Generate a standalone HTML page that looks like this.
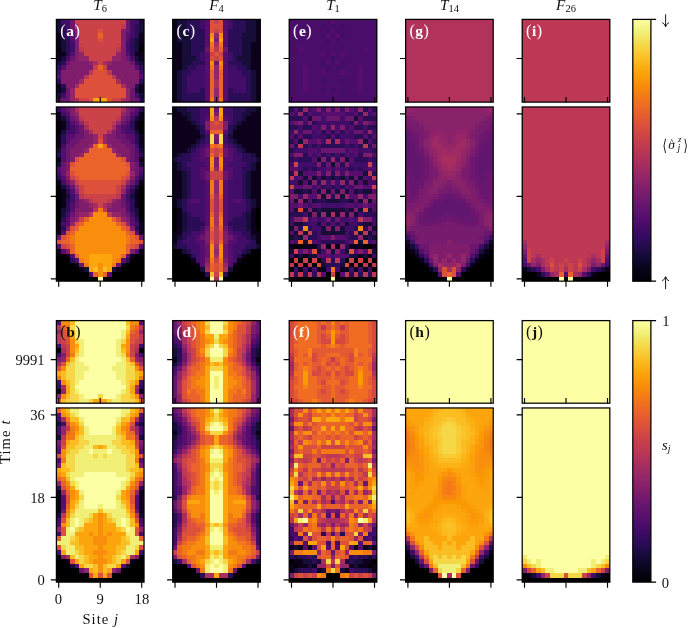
<!DOCTYPE html>
<html><head><meta charset="utf-8"><title>Figure</title>
<style>
html,body{margin:0;padding:0;background:#fff;}
svg{display:block;}
text{font-family:"Liberation Serif","DejaVu Serif",serif;fill:#111;}
.it{font-style:italic;}
.b{font-weight:bold;}
.w{fill:#fff;}
.ax{fill:none;stroke:#000;stroke-width:1.25;}
.tk{stroke:#000;stroke-width:1.15;fill:none;}
</style></head><body>
<svg width="688" height="628" viewBox="0 0 688 628">
<rect width="688" height="628" fill="#fff"/>
<defs><filter id="bl" x="-5%" y="-5%" width="110%" height="110%"><feGaussianBlur stdDeviation="0.55"/></filter></defs>

<g shape-rendering="crispEdges" filter="url(#bl)">
<g transform="translate(56.40,19.40) scale(4.6120,4.5972)"><path fill="#000004" d="M0 6h1v1h-1zM18 6h1v1h-1z"/><path fill="#07051b" d="M0 3h1v1h-1zM18 3h1v1h-1zM0 4h1v1h-1zM18 4h1v1h-1zM0 5h1v1h-1zM18 5h1v1h-1zM0 7h2v1h-2zM17 7h2v1h-2zM0 8h1v1h-1zM18 8h1v1h-1zM0 14h1v1h-1zM18 14h1v1h-1zM0 15h1v1h-1zM18 15h1v1h-1z"/><path fill="#160b39" d="M0 0h1v1h-1zM18 0h1v1h-1zM0 1h1v1h-1zM18 1h1v1h-1zM0 2h1v1h-1zM18 2h1v1h-1zM1 4h1v1h-1zM17 4h1v1h-1zM1 5h1v1h-1zM17 5h1v1h-1zM1 6h1v1h-1zM17 6h1v1h-1zM1 8h1v1h-1zM17 8h1v1h-1zM0 9h1v1h-1zM18 9h1v1h-1zM1 15h1v1h-1zM17 15h1v1h-1zM0 16h1v1h-1zM18 16h1v1h-1z"/><path fill="#2b0b57" d="M1 1h1v1h-1zM17 1h1v1h-1zM1 2h1v1h-1zM17 2h1v1h-1zM1 3h1v1h-1zM17 3h1v1h-1zM2 4h1v1h-1zM16 4h1v1h-1zM2 5h1v1h-1zM16 5h1v1h-1zM2 6h1v1h-1zM16 6h1v1h-1zM2 7h1v1h-1zM16 7h1v1h-1zM1 9h1v1h-1zM17 9h1v1h-1zM0 10h1v1h-1zM18 10h1v1h-1zM0 13h1v1h-1zM18 13h1v1h-1zM1 14h1v1h-1zM17 14h1v1h-1z"/><path fill="#420a68" d="M1 0h2v1h-2zM16 0h2v1h-2zM2 1h1v1h-1zM16 1h1v1h-1zM2 2h1v1h-1zM16 2h1v1h-1zM2 3h1v1h-1zM16 3h1v1h-1zM3 5h1v1h-1zM15 5h1v1h-1zM3 6h1v1h-1zM15 6h1v1h-1zM2 8h1v1h-1zM16 8h1v1h-1zM0 11h1v1h-1zM18 11h1v1h-1zM1 16h1v1h-1zM17 16h1v1h-1zM0 17h1v1h-1zM18 17h1v1h-1z"/><path fill="#57106e" d="M3 3h1v1h-1zM15 3h1v1h-1zM3 4h1v1h-1zM15 4h1v1h-1zM3 7h1v1h-1zM15 7h1v1h-1zM1 10h1v1h-1zM17 10h1v1h-1zM0 12h1v1h-1zM18 12h1v1h-1z"/><path fill="#6a176e" d="M3 0h1v1h-1zM15 0h1v1h-1zM3 1h1v1h-1zM15 1h1v1h-1zM3 2h1v1h-1zM15 2h1v1h-1zM3 8h1v1h-1zM15 8h1v1h-1zM2 9h1v1h-1zM16 9h1v1h-1zM2 15h1v1h-1zM16 15h1v1h-1zM2 16h1v1h-1zM16 16h1v1h-1zM1 17h2v1h-2zM16 17h2v1h-2z"/><path fill="#7f1e6c" d="M4 2h1v1h-1zM14 2h1v1h-1zM4 3h1v1h-1zM14 3h1v1h-1zM4 4h1v1h-1zM14 4h1v1h-1zM4 5h1v1h-1zM14 5h1v1h-1zM4 6h1v1h-1zM14 6h1v1h-1zM4 7h1v1h-1zM14 7h1v1h-1zM4 8h1v1h-1zM14 8h1v1h-1zM3 9h4v1h-4zM12 9h4v1h-4zM2 10h6v1h-6zM11 10h6v1h-6zM1 11h6v1h-6zM12 11h6v1h-6zM1 12h5v1h-5zM13 12h5v1h-5zM1 13h4v1h-4zM14 13h4v1h-4zM2 14h2v1h-2zM15 14h2v1h-2z"/><path fill="#932667" d="M5 7h1v1h-1zM13 7h1v1h-1zM5 8h2v1h-2zM12 8h2v1h-2zM7 9h1v1h-1zM11 9h1v1h-1zM3 15h1v1h-1zM15 15h1v1h-1zM3 16h1v1h-1zM15 16h1v1h-1zM3 17h1v1h-1zM15 17h1v1h-1z"/><path fill="#a82e5f" d="M8 9h1v1h-1zM10 9h1v1h-1zM5 13h1v1h-1zM13 13h1v1h-1zM4 14h1v1h-1zM14 14h1v1h-1zM4 17h1v1h-1zM14 17h1v1h-1z"/><path fill="#bc3754" d="M4 1h1v1h-1zM14 1h1v1h-1zM5 6h1v1h-1zM13 6h1v1h-1zM7 11h1v1h-1zM11 11h1v1h-1zM6 12h1v1h-1zM12 12h1v1h-1z"/><path fill="#cc4248" d="M4 0h11v1h-11zM5 1h9v1h-9zM5 2h4v1h-4zM10 2h4v1h-4zM5 3h4v1h-4zM10 3h4v1h-4zM5 4h4v1h-4zM10 4h4v1h-4zM5 5h9v1h-9zM6 6h7v1h-7zM6 7h7v1h-7zM7 8h5v1h-5zM9 9h1v1h-1zM8 10h1v1h-1zM10 10h1v1h-1zM5 17h2v1h-2zM12 17h2v1h-2z"/><path fill="#dd513a" d="M9 2h1v1h-1zM9 4h1v1h-1zM8 11h3v1h-3zM7 12h5v1h-5zM6 13h7v1h-7zM5 14h9v1h-9zM4 15h11v1h-11zM4 16h11v1h-11zM7 17h1v1h-1zM11 17h1v1h-1z"/><path fill="#ea632a" d="M9 3h1v1h-1zM9 10h1v1h-1z"/><path fill="#fca50a" d="M8 17h3v1h-3z"/></g>
<g transform="translate(56.40,106.95) scale(4.6120,4.5842)"><path fill="#000004" d="M0 3h1v1h-1zM18 3h1v1h-1zM0 4h1v1h-1zM18 4h1v1h-1zM0 5h1v1h-1zM18 5h1v1h-1zM0 17h1v1h-1zM18 17h1v1h-1zM0 18h1v1h-1zM18 18h1v1h-1zM0 19h1v1h-1zM18 19h1v1h-1zM0 20h1v1h-1zM18 20h1v1h-1zM0 21h1v1h-1zM18 21h1v1h-1zM0 22h1v1h-1zM18 22h1v1h-1zM0 23h1v1h-1zM18 23h1v1h-1zM0 24h1v1h-1zM18 24h1v1h-1zM0 32h2v1h-2zM17 32h2v1h-2zM0 33h3v1h-3zM16 33h3v1h-3zM0 34h4v1h-4zM15 34h4v1h-4zM0 35h5v1h-5zM14 35h5v1h-5zM0 36h7v1h-7zM12 36h7v1h-7zM0 37h9v1h-9zM10 37h9v1h-9z"/><path fill="#07051b" d="M0 1h1v1h-1zM18 1h1v1h-1zM0 2h1v1h-1zM18 2h1v1h-1zM1 3h1v1h-1zM17 3h1v1h-1zM1 4h1v1h-1zM17 4h1v1h-1zM0 6h1v1h-1zM18 6h1v1h-1zM0 7h1v1h-1zM18 7h1v1h-1zM0 8h1v1h-1zM18 8h1v1h-1zM0 11h1v1h-1zM18 11h1v1h-1zM0 16h1v1h-1zM18 16h1v1h-1zM1 18h1v1h-1zM17 18h1v1h-1zM1 19h1v1h-1zM17 19h1v1h-1zM1 20h1v1h-1zM17 20h1v1h-1zM1 21h1v1h-1zM17 21h1v1h-1zM0 25h1v1h-1zM18 25h1v1h-1zM0 26h1v1h-1zM18 26h1v1h-1zM0 27h1v1h-1zM18 27h1v1h-1zM0 31h1v1h-1zM18 31h1v1h-1zM2 32h1v1h-1zM16 32h1v1h-1zM4 34h1v1h-1zM14 34h1v1h-1zM5 35h1v1h-1zM13 35h1v1h-1z"/><path fill="#160b39" d="M1 2h1v1h-1zM17 2h1v1h-1zM1 5h1v1h-1zM17 5h1v1h-1zM0 9h1v1h-1zM18 9h1v1h-1zM0 12h1v1h-1zM18 12h1v1h-1zM1 17h1v1h-1zM17 17h1v1h-1zM2 19h1v1h-1zM16 19h1v1h-1zM1 22h1v1h-1zM17 22h1v1h-1zM1 23h1v1h-1zM17 23h1v1h-1zM6 35h1v1h-1zM12 35h1v1h-1z"/><path fill="#2b0b57" d="M0 0h1v1h-1zM18 0h1v1h-1zM2 3h1v1h-1zM16 3h1v1h-1zM2 4h1v1h-1zM16 4h1v1h-1zM1 6h1v1h-1zM17 6h1v1h-1zM1 7h1v1h-1zM17 7h1v1h-1zM0 10h1v1h-1zM18 10h1v1h-1zM0 15h1v1h-1zM18 15h1v1h-1zM2 18h1v1h-1zM16 18h1v1h-1zM2 20h1v1h-1zM16 20h1v1h-1zM2 21h1v1h-1zM16 21h1v1h-1zM2 22h1v1h-1zM16 22h1v1h-1zM1 24h1v1h-1zM17 24h1v1h-1zM1 26h1v1h-1zM17 26h1v1h-1zM3 33h1v1h-1zM15 33h1v1h-1z"/><path fill="#420a68" d="M1 1h1v1h-1zM17 1h1v1h-1zM2 2h1v1h-1zM16 2h1v1h-1zM3 4h1v1h-1zM15 4h1v1h-1zM2 5h2v1h-2zM15 5h2v1h-2zM1 8h1v1h-1zM17 8h1v1h-1zM0 14h1v1h-1zM18 14h1v1h-1zM1 16h1v1h-1zM17 16h1v1h-1zM2 17h1v1h-1zM16 17h1v1h-1zM3 19h1v1h-1zM15 19h1v1h-1zM3 20h1v1h-1zM15 20h1v1h-1zM2 23h1v1h-1zM16 23h1v1h-1zM1 25h1v1h-1zM17 25h1v1h-1z"/><path fill="#57106e" d="M1 0h1v1h-1zM17 0h1v1h-1zM2 1h1v1h-1zM16 1h1v1h-1zM3 3h1v1h-1zM15 3h1v1h-1zM4 4h1v1h-1zM14 4h1v1h-1zM4 5h1v1h-1zM14 5h1v1h-1zM2 6h2v1h-2zM15 6h2v1h-2zM2 7h1v1h-1zM16 7h1v1h-1zM1 9h1v1h-1zM17 9h1v1h-1zM1 10h1v1h-1zM17 10h1v1h-1zM1 11h1v1h-1zM17 11h1v1h-1zM0 13h1v1h-1zM18 13h1v1h-1zM1 15h1v1h-1zM17 15h1v1h-1zM3 18h1v1h-1zM15 18h1v1h-1zM3 21h1v1h-1zM15 21h1v1h-1zM3 22h1v1h-1zM15 22h1v1h-1zM2 24h1v1h-1zM16 24h1v1h-1zM2 25h1v1h-1zM16 25h1v1h-1zM1 27h1v1h-1zM17 27h1v1h-1zM0 30h1v1h-1zM18 30h1v1h-1zM1 31h1v1h-1zM17 31h1v1h-1zM3 32h1v1h-1zM15 32h1v1h-1zM4 33h1v1h-1zM14 33h1v1h-1zM7 36h1v1h-1zM11 36h1v1h-1z"/><path fill="#6a176e" d="M2 0h1v1h-1zM16 0h1v1h-1zM3 2h1v1h-1zM15 2h1v1h-1zM4 3h1v1h-1zM14 3h1v1h-1zM5 4h1v1h-1zM13 4h1v1h-1zM5 5h1v1h-1zM13 5h1v1h-1zM4 6h2v1h-2zM13 6h2v1h-2zM3 7h2v1h-2zM14 7h2v1h-2zM2 8h2v1h-2zM15 8h2v1h-2zM2 9h1v1h-1zM16 9h1v1h-1zM2 10h1v1h-1zM16 10h1v1h-1zM2 11h1v1h-1zM16 11h1v1h-1zM1 12h1v1h-1zM17 12h1v1h-1zM1 13h1v1h-1zM17 13h1v1h-1zM1 14h1v1h-1zM17 14h1v1h-1zM2 16h1v1h-1zM16 16h1v1h-1zM3 17h1v1h-1zM15 17h1v1h-1zM4 19h1v1h-1zM14 19h1v1h-1zM4 20h1v1h-1zM14 20h1v1h-1zM4 21h1v1h-1zM14 21h1v1h-1zM3 23h1v1h-1zM15 23h1v1h-1zM0 28h1v1h-1zM18 28h1v1h-1zM5 34h1v1h-1zM13 34h1v1h-1z"/><path fill="#7f1e6c" d="M3 0h1v1h-1zM15 0h1v1h-1zM3 1h1v1h-1zM15 1h1v1h-1zM4 2h1v1h-1zM14 2h1v1h-1zM6 5h1v1h-1zM12 5h1v1h-1zM6 6h2v1h-2zM11 6h2v1h-2zM5 7h3v1h-3zM11 7h3v1h-3zM4 8h3v1h-3zM12 8h3v1h-3zM3 9h3v1h-3zM13 9h3v1h-3zM3 10h2v1h-2zM14 10h2v1h-2zM3 11h1v1h-1zM15 11h1v1h-1zM2 12h1v1h-1zM16 12h1v1h-1zM2 13h1v1h-1zM16 13h1v1h-1zM2 15h1v1h-1zM16 15h1v1h-1zM5 20h1v1h-1zM13 20h1v1h-1zM5 21h2v1h-2zM12 21h2v1h-2zM4 22h4v1h-4zM11 22h4v1h-4zM4 23h1v1h-1zM14 23h1v1h-1zM3 24h1v1h-1zM15 24h1v1h-1zM2 26h1v1h-1zM16 26h1v1h-1zM2 31h1v1h-1zM16 31h1v1h-1z"/><path fill="#932667" d="M4 1h1v1h-1zM14 1h1v1h-1zM5 3h1v1h-1zM13 3h1v1h-1zM8 6h1v1h-1zM10 6h1v1h-1zM8 7h1v1h-1zM10 7h1v1h-1zM7 8h1v1h-1zM11 8h1v1h-1zM6 9h1v1h-1zM12 9h1v1h-1zM5 10h1v1h-1zM13 10h1v1h-1zM2 14h1v1h-1zM16 14h1v1h-1zM3 16h1v1h-1zM15 16h1v1h-1zM4 18h1v1h-1zM14 18h1v1h-1zM6 20h1v1h-1zM12 20h1v1h-1zM7 21h1v1h-1zM11 21h1v1h-1zM5 23h2v1h-2zM12 23h2v1h-2zM4 24h1v1h-1zM14 24h1v1h-1zM3 25h1v1h-1zM15 25h1v1h-1z"/><path fill="#a82e5f" d="M4 0h1v1h-1zM14 0h1v1h-1zM6 4h1v1h-1zM12 4h1v1h-1zM7 5h1v1h-1zM11 5h1v1h-1zM4 17h1v1h-1zM14 17h1v1h-1zM8 21h1v1h-1zM10 21h1v1h-1z"/><path fill="#bc3754" d="M5 2h1v1h-1zM13 2h1v1h-1zM6 3h1v1h-1zM12 3h1v1h-1zM5 19h1v1h-1zM13 19h1v1h-1zM7 20h1v1h-1zM11 20h1v1h-1zM8 22h1v1h-1zM10 22h1v1h-1zM7 23h1v1h-1zM11 23h1v1h-1z"/><path fill="#cc4248" d="M5 0h9v1h-9zM5 1h9v1h-9zM6 2h7v1h-7zM7 3h5v1h-5zM7 4h5v1h-5zM8 5h3v1h-3zM9 6h1v1h-1zM3 15h1v1h-1zM15 15h1v1h-1zM4 16h1v1h-1zM14 16h1v1h-1zM5 17h1v1h-1zM13 17h1v1h-1zM5 18h1v1h-1zM13 18h1v1h-1zM6 19h7v1h-7zM8 20h3v1h-3zM9 21h1v1h-1zM5 24h1v1h-1zM13 24h1v1h-1zM1 30h1v1h-1zM17 30h1v1h-1z"/><path fill="#dd513a" d="M9 7h1v1h-1zM4 11h1v1h-1zM14 11h1v1h-1zM3 12h1v1h-1zM15 12h1v1h-1zM3 14h1v1h-1zM15 14h1v1h-1zM4 15h1v1h-1zM14 15h1v1h-1zM5 16h9v1h-9zM6 17h7v1h-7zM6 18h7v1h-7zM4 25h1v1h-1zM14 25h1v1h-1zM3 26h1v1h-1zM15 26h1v1h-1zM2 27h1v1h-1zM16 27h1v1h-1zM1 28h1v1h-1zM17 28h1v1h-1zM0 29h1v1h-1zM18 29h1v1h-1zM2 30h1v1h-1zM16 30h1v1h-1z"/><path fill="#ea632a" d="M8 8h1v1h-1zM10 8h1v1h-1zM7 9h5v1h-5zM6 10h7v1h-7zM5 11h9v1h-9zM4 12h11v1h-11zM3 13h13v1h-13zM4 14h11v1h-11zM5 15h9v1h-9zM6 24h1v1h-1zM12 24h1v1h-1zM5 25h1v1h-1zM13 25h1v1h-1zM4 26h1v1h-1zM14 26h1v1h-1zM3 27h1v1h-1zM15 27h1v1h-1zM2 28h1v1h-1zM16 28h1v1h-1zM1 29h2v1h-2zM16 29h2v1h-2zM3 30h1v1h-1zM15 30h1v1h-1zM3 31h1v1h-1zM15 31h1v1h-1zM4 32h1v1h-1zM14 32h1v1h-1zM8 36h1v1h-1zM10 36h1v1h-1z"/><path fill="#f37819" d="M9 22h1v1h-1zM3 28h1v1h-1zM15 28h1v1h-1zM3 29h1v1h-1zM15 29h1v1h-1zM5 33h1v1h-1zM13 33h1v1h-1zM6 34h1v1h-1zM12 34h1v1h-1z"/><path fill="#f98e09" d="M8 23h3v1h-3zM7 24h5v1h-5zM6 25h7v1h-7zM5 26h9v1h-9zM4 27h11v1h-11zM4 28h11v1h-11zM4 29h11v1h-11zM4 30h11v1h-11zM4 31h11v1h-11zM5 32h2v1h-2zM12 32h2v1h-2zM6 33h1v1h-1zM12 33h1v1h-1zM9 34h1v1h-1zM9 35h1v1h-1zM9 36h1v1h-1z"/><path fill="#fca50a" d="M9 8h1v1h-1zM7 32h5v1h-5zM7 33h5v1h-5zM7 34h2v1h-2zM10 34h2v1h-2zM7 35h1v1h-1zM11 35h1v1h-1z"/><path fill="#fbbe23" d="M8 35h1v1h-1zM10 35h1v1h-1z"/><path fill="#fcffa4" d="M9 37h1v1h-1z"/></g>
</g>
<rect class="ax" x="56.40" y="19.40" width="87.63" height="82.75"/>
<rect class="ax" x="56.40" y="106.95" width="87.63" height="174.20"/>
<path class="tk" d="M56.40 278.86h-5.6M56.40 196.34h-5.6M56.40 113.83h-5.6M56.40 58.48h-5.6M58.71 281.15v5.6M58.71 102.15v-5.2M100.21 281.15v5.6M100.21 102.15v-5.2M141.72 281.15v5.6M141.72 102.15v-5.2"/>
<text class="w" x="60.3" y="36.0" font-size="16">(<tspan class="b" dx="0.5" font-size="15.5">a</tspan><tspan dx="0.5">)</tspan></text>
<g shape-rendering="crispEdges" filter="url(#bl)">
<g transform="translate(172.70,19.40) scale(4.6120,4.5972)"><path fill="#07051b" d="M0 0h1v1h-1zM18 0h1v1h-1zM0 1h1v1h-1zM18 1h1v1h-1zM0 2h1v1h-1zM18 2h1v1h-1zM0 3h1v1h-1zM18 3h1v1h-1zM0 4h1v1h-1zM18 4h1v1h-1zM0 5h2v1h-2zM17 5h2v1h-2zM0 6h2v1h-2zM17 6h2v1h-2zM0 7h2v1h-2zM17 7h2v1h-2zM0 8h2v1h-2zM17 8h2v1h-2zM0 9h2v1h-2zM17 9h2v1h-2zM0 10h2v1h-2zM17 10h2v1h-2zM0 11h1v1h-1zM18 11h1v1h-1zM0 12h1v1h-1zM18 12h1v1h-1zM0 13h1v1h-1zM18 13h1v1h-1zM0 14h1v1h-1zM18 14h1v1h-1zM0 15h1v1h-1zM18 15h1v1h-1zM0 16h1v1h-1zM18 16h1v1h-1zM0 17h1v1h-1zM18 17h1v1h-1z"/><path fill="#160b39" d="M1 0h2v1h-2zM16 0h2v1h-2zM1 1h2v1h-2zM16 1h2v1h-2zM1 2h2v1h-2zM16 2h2v1h-2zM1 3h3v1h-3zM15 3h3v1h-3zM1 4h3v1h-3zM15 4h3v1h-3zM2 5h2v1h-2zM15 5h2v1h-2zM2 6h2v1h-2zM15 6h2v1h-2zM2 7h2v1h-2zM15 7h2v1h-2zM2 8h3v1h-3zM14 8h3v1h-3zM2 9h2v1h-2zM15 9h2v1h-2zM2 10h1v1h-1zM16 10h1v1h-1zM1 11h1v1h-1zM17 11h1v1h-1zM1 12h1v1h-1zM17 12h1v1h-1zM1 13h1v1h-1zM17 13h1v1h-1zM1 14h1v1h-1zM17 14h1v1h-1zM1 15h1v1h-1zM17 15h1v1h-1zM1 16h1v1h-1zM17 16h1v1h-1zM1 17h1v1h-1zM17 17h1v1h-1z"/><path fill="#2b0b57" d="M3 0h3v1h-3zM13 0h3v1h-3zM3 1h3v1h-3zM13 1h3v1h-3zM3 2h4v1h-4zM12 2h4v1h-4zM4 3h3v1h-3zM12 3h3v1h-3zM4 4h3v1h-3zM12 4h3v1h-3zM4 5h3v1h-3zM12 5h3v1h-3zM4 6h3v1h-3zM12 6h3v1h-3zM4 7h2v1h-2zM13 7h2v1h-2zM5 8h1v1h-1zM13 8h1v1h-1zM4 9h3v1h-3zM12 9h3v1h-3zM3 10h2v1h-2zM14 10h2v1h-2zM2 11h2v1h-2zM15 11h2v1h-2zM2 12h1v1h-1zM16 12h1v1h-1zM2 13h1v1h-1zM16 13h1v1h-1zM2 14h1v1h-1zM16 14h1v1h-1zM2 15h1v1h-1zM6 15h1v1h-1zM12 15h1v1h-1zM16 15h1v1h-1zM2 16h5v1h-5zM12 16h5v1h-5zM2 17h5v1h-5zM12 17h5v1h-5z"/><path fill="#420a68" d="M6 0h1v1h-1zM12 0h1v1h-1zM6 1h1v1h-1zM12 1h1v1h-1zM6 7h1v1h-1zM12 7h1v1h-1zM6 8h1v1h-1zM12 8h1v1h-1zM5 10h2v1h-2zM12 10h2v1h-2zM4 11h3v1h-3zM12 11h3v1h-3zM3 12h4v1h-4zM12 12h4v1h-4zM3 13h4v1h-4zM12 13h4v1h-4zM3 14h4v1h-4zM12 14h4v1h-4zM3 15h3v1h-3zM13 15h3v1h-3z"/><path fill="#57106e" d="M7 0h1v1h-1zM11 0h1v1h-1zM7 1h1v1h-1zM11 1h1v1h-1zM7 2h1v1h-1zM11 2h1v1h-1zM7 3h1v1h-1zM11 3h1v1h-1zM7 4h1v1h-1zM11 4h1v1h-1zM7 5h1v1h-1zM11 5h1v1h-1zM7 7h1v1h-1zM11 7h1v1h-1zM7 8h1v1h-1zM11 8h1v1h-1zM7 9h1v1h-1zM11 9h1v1h-1zM7 10h1v1h-1zM11 10h1v1h-1zM7 11h1v1h-1zM11 11h1v1h-1zM7 12h1v1h-1zM11 12h1v1h-1zM7 13h1v1h-1zM11 13h1v1h-1zM7 14h1v1h-1zM11 14h1v1h-1zM7 15h1v1h-1zM11 15h1v1h-1zM7 16h1v1h-1zM11 16h1v1h-1zM7 17h1v1h-1zM11 17h1v1h-1z"/><path fill="#6a176e" d="M7 6h1v1h-1zM11 6h1v1h-1zM9 9h1v1h-1z"/><path fill="#7f1e6c" d="M9 4h1v1h-1z"/><path fill="#932667" d="M9 3h1v1h-1zM9 10h1v1h-1zM9 11h1v1h-1zM9 12h1v1h-1zM9 15h1v1h-1zM9 16h1v1h-1zM9 17h1v1h-1z"/><path fill="#a82e5f" d="M9 5h1v1h-1zM9 13h1v1h-1zM9 14h1v1h-1z"/><path fill="#bc3754" d="M9 6h1v1h-1z"/><path fill="#cc4248" d="M9 0h1v1h-1zM9 2h1v1h-1zM8 7h1v1h-1zM10 7h1v1h-1zM9 8h1v1h-1z"/><path fill="#dd513a" d="M8 0h1v1h-1zM10 0h1v1h-1zM8 1h3v1h-3zM8 2h1v1h-1zM10 2h1v1h-1zM9 7h1v1h-1zM8 8h1v1h-1zM10 8h1v1h-1z"/><path fill="#ea632a" d="M8 6h1v1h-1zM10 6h1v1h-1zM8 11h1v1h-1zM10 11h1v1h-1zM8 12h1v1h-1zM10 12h1v1h-1zM8 13h1v1h-1zM10 13h1v1h-1zM8 14h1v1h-1zM10 14h1v1h-1zM8 15h1v1h-1zM10 15h1v1h-1zM8 16h1v1h-1zM10 16h1v1h-1z"/><path fill="#f37819" d="M8 5h1v1h-1zM10 5h1v1h-1zM8 10h1v1h-1zM10 10h1v1h-1zM8 17h1v1h-1zM10 17h1v1h-1z"/><path fill="#f98e09" d="M8 3h1v1h-1zM10 3h1v1h-1zM8 9h1v1h-1zM10 9h1v1h-1z"/><path fill="#fca50a" d="M8 4h1v1h-1zM10 4h1v1h-1z"/></g>
<g transform="translate(172.70,106.95) scale(4.6120,4.5842)"><path fill="#000004" d="M0 22h1v1h-1zM18 22h1v1h-1zM0 23h1v1h-1zM18 23h1v1h-1zM0 24h1v1h-1zM18 24h1v1h-1zM0 25h1v1h-1zM18 25h1v1h-1zM0 26h1v1h-1zM18 26h1v1h-1zM0 31h2v1h-2zM17 31h2v1h-2zM0 32h3v1h-3zM16 32h3v1h-3zM0 33h4v1h-4zM15 33h4v1h-4zM0 34h5v1h-5zM14 34h5v1h-5zM0 35h6v1h-6zM13 35h6v1h-6zM0 36h7v1h-7zM12 36h7v1h-7zM0 37h8v1h-8zM11 37h8v1h-8z"/><path fill="#07051b" d="M0 0h1v1h-1zM18 0h1v1h-1zM0 1h2v1h-2zM17 1h2v1h-2zM0 2h3v1h-3zM16 2h3v1h-3zM0 3h4v1h-4zM15 3h4v1h-4zM0 4h5v1h-5zM14 4h5v1h-5zM0 5h6v1h-6zM13 5h6v1h-6zM0 6h6v1h-6zM13 6h6v1h-6zM0 7h5v1h-5zM14 7h5v1h-5zM0 8h4v1h-4zM15 8h4v1h-4zM0 9h3v1h-3zM16 9h3v1h-3zM0 10h1v1h-1zM18 10h1v1h-1zM0 12h1v1h-1zM18 12h1v1h-1zM0 13h1v1h-1zM18 13h1v1h-1zM0 14h2v1h-2zM17 14h2v1h-2zM0 15h2v1h-2zM17 15h2v1h-2zM0 16h2v1h-2zM17 16h2v1h-2zM0 17h2v1h-2zM17 17h2v1h-2zM0 18h2v1h-2zM17 18h2v1h-2zM0 19h2v1h-2zM17 19h2v1h-2zM0 20h1v1h-1zM18 20h1v1h-1zM0 21h1v1h-1zM18 21h1v1h-1zM1 22h1v1h-1zM17 22h1v1h-1zM1 23h1v1h-1zM17 23h1v1h-1zM1 24h1v1h-1zM17 24h1v1h-1zM1 25h1v1h-1zM17 25h1v1h-1zM1 26h1v1h-1zM17 26h1v1h-1zM0 27h2v1h-2zM17 27h2v1h-2zM0 28h1v1h-1zM18 28h1v1h-1zM0 29h1v1h-1zM18 29h1v1h-1zM3 32h1v1h-1zM15 32h1v1h-1zM4 33h1v1h-1zM14 33h1v1h-1zM5 34h1v1h-1zM13 34h1v1h-1z"/><path fill="#160b39" d="M1 0h2v1h-2zM16 0h2v1h-2zM2 1h2v1h-2zM15 1h2v1h-2zM3 2h1v1h-1zM15 2h1v1h-1zM4 3h1v1h-1zM14 3h1v1h-1zM5 4h1v1h-1zM13 4h1v1h-1zM6 6h1v1h-1zM12 6h1v1h-1zM5 7h1v1h-1zM13 7h1v1h-1zM4 8h1v1h-1zM14 8h1v1h-1zM3 9h1v1h-1zM15 9h1v1h-1zM1 10h1v1h-1zM17 10h1v1h-1zM0 11h1v1h-1zM18 11h1v1h-1zM1 12h1v1h-1zM17 12h1v1h-1zM1 13h1v1h-1zM17 13h1v1h-1zM2 14h1v1h-1zM16 14h1v1h-1zM2 15h1v1h-1zM16 15h1v1h-1zM2 16h1v1h-1zM16 16h1v1h-1zM2 17h1v1h-1zM16 17h1v1h-1zM2 18h1v1h-1zM16 18h1v1h-1zM2 19h1v1h-1zM16 19h1v1h-1zM1 20h1v1h-1zM17 20h1v1h-1zM1 21h1v1h-1zM17 21h1v1h-1zM2 23h1v1h-1zM16 23h1v1h-1zM2 24h1v1h-1zM16 24h1v1h-1zM2 25h1v1h-1zM16 25h1v1h-1zM2 26h1v1h-1zM16 26h1v1h-1zM1 28h1v1h-1zM17 28h1v1h-1zM0 30h1v1h-1zM18 30h1v1h-1zM2 31h1v1h-1zM16 31h1v1h-1zM6 35h1v1h-1zM12 35h1v1h-1z"/><path fill="#2b0b57" d="M3 0h3v1h-3zM13 0h3v1h-3zM4 1h2v1h-2zM13 1h2v1h-2zM4 2h2v1h-2zM13 2h2v1h-2zM5 3h1v1h-1zM13 3h1v1h-1zM6 4h1v1h-1zM12 4h1v1h-1zM6 5h1v1h-1zM12 5h1v1h-1zM6 7h1v1h-1zM12 7h1v1h-1zM5 8h1v1h-1zM13 8h1v1h-1zM4 9h1v1h-1zM14 9h1v1h-1zM2 10h2v1h-2zM15 10h2v1h-2zM1 11h3v1h-3zM15 11h3v1h-3zM2 12h1v1h-1zM16 12h1v1h-1zM2 13h2v1h-2zM15 13h2v1h-2zM3 14h1v1h-1zM15 14h1v1h-1zM3 15h1v1h-1zM15 15h1v1h-1zM3 16h1v1h-1zM15 16h1v1h-1zM3 17h1v1h-1zM15 17h1v1h-1zM3 18h1v1h-1zM15 18h1v1h-1zM3 19h1v1h-1zM15 19h1v1h-1zM2 20h1v1h-1zM16 20h1v1h-1zM2 21h1v1h-1zM16 21h1v1h-1zM2 22h1v1h-1zM16 22h1v1h-1zM3 23h1v1h-1zM15 23h1v1h-1zM3 24h3v1h-3zM13 24h3v1h-3zM3 25h4v1h-4zM12 25h4v1h-4zM3 26h3v1h-3zM13 26h3v1h-3zM2 27h2v1h-2zM15 27h2v1h-2zM2 28h1v1h-1zM16 28h1v1h-1zM1 29h1v1h-1zM17 29h1v1h-1zM1 30h2v1h-2zM16 30h2v1h-2zM3 31h1v1h-1zM15 31h1v1h-1zM4 32h1v1h-1zM14 32h1v1h-1zM7 36h1v1h-1zM11 36h1v1h-1z"/><path fill="#420a68" d="M6 0h2v1h-2zM11 0h2v1h-2zM6 1h2v1h-2zM11 1h2v1h-2zM6 2h1v1h-1zM12 2h1v1h-1zM6 3h1v1h-1zM12 3h1v1h-1zM7 6h1v1h-1zM11 6h1v1h-1zM7 7h1v1h-1zM11 7h1v1h-1zM6 8h1v1h-1zM12 8h1v1h-1zM5 9h1v1h-1zM13 9h1v1h-1zM4 10h2v1h-2zM13 10h2v1h-2zM4 11h2v1h-2zM13 11h2v1h-2zM3 12h4v1h-4zM12 12h4v1h-4zM4 13h2v1h-2zM13 13h2v1h-2zM4 14h2v1h-2zM13 14h2v1h-2zM4 15h2v1h-2zM13 15h2v1h-2zM4 16h3v1h-3zM12 16h3v1h-3zM4 17h3v1h-3zM12 17h3v1h-3zM4 18h3v1h-3zM12 18h3v1h-3zM4 19h3v1h-3zM12 19h3v1h-3zM3 20h1v1h-1zM6 20h1v1h-1zM12 20h1v1h-1zM15 20h1v1h-1zM3 21h4v1h-4zM12 21h4v1h-4zM3 22h4v1h-4zM12 22h4v1h-4zM4 23h3v1h-3zM12 23h3v1h-3zM6 24h1v1h-1zM12 24h1v1h-1zM6 26h1v1h-1zM12 26h1v1h-1zM4 27h2v1h-2zM13 27h2v1h-2zM3 28h2v1h-2zM14 28h2v1h-2zM2 29h3v1h-3zM14 29h3v1h-3zM3 30h3v1h-3zM13 30h3v1h-3zM4 31h2v1h-2zM13 31h2v1h-2zM5 32h1v1h-1zM13 32h1v1h-1zM5 33h1v1h-1zM13 33h1v1h-1z"/><path fill="#57106e" d="M7 2h1v1h-1zM11 2h1v1h-1zM7 5h1v1h-1zM11 5h1v1h-1zM7 8h1v1h-1zM11 8h1v1h-1zM6 9h1v1h-1zM12 9h1v1h-1zM6 10h1v1h-1zM12 10h1v1h-1zM6 11h2v1h-2zM11 11h2v1h-2zM7 12h1v1h-1zM11 12h1v1h-1zM6 13h2v1h-2zM11 13h2v1h-2zM6 14h1v1h-1zM12 14h1v1h-1zM6 15h1v1h-1zM12 15h1v1h-1zM7 16h1v1h-1zM11 16h1v1h-1zM7 17h1v1h-1zM11 17h1v1h-1zM7 18h1v1h-1zM11 18h1v1h-1zM7 19h1v1h-1zM11 19h1v1h-1zM4 20h2v1h-2zM7 20h1v1h-1zM11 20h1v1h-1zM13 20h2v1h-2zM7 21h1v1h-1zM11 21h1v1h-1zM7 22h1v1h-1zM11 22h1v1h-1zM7 23h1v1h-1zM11 23h1v1h-1zM7 24h1v1h-1zM11 24h1v1h-1zM7 25h1v1h-1zM11 25h1v1h-1zM6 27h1v1h-1zM12 27h1v1h-1zM5 28h1v1h-1zM13 28h1v1h-1zM5 29h2v1h-2zM12 29h2v1h-2zM6 30h1v1h-1zM12 30h1v1h-1zM6 31h1v1h-1zM12 31h1v1h-1zM6 32h1v1h-1zM12 32h1v1h-1zM6 33h1v1h-1zM12 33h1v1h-1zM6 34h1v1h-1zM12 34h1v1h-1z"/><path fill="#6a176e" d="M9 0h1v1h-1zM9 7h1v1h-1zM7 9h1v1h-1zM11 9h1v1h-1zM7 10h1v1h-1zM11 10h1v1h-1zM7 14h1v1h-1zM11 14h1v1h-1zM7 15h1v1h-1zM11 15h1v1h-1zM7 26h1v1h-1zM11 26h1v1h-1zM6 28h1v1h-1zM12 28h1v1h-1zM7 30h1v1h-1zM11 30h1v1h-1zM7 31h1v1h-1zM11 31h1v1h-1zM7 32h1v1h-1zM11 32h1v1h-1z"/><path fill="#7f1e6c" d="M9 1h1v1h-1zM7 3h1v1h-1zM11 3h1v1h-1zM7 4h1v1h-1zM11 4h1v1h-1zM9 6h1v1h-1zM9 11h1v1h-1zM9 12h1v1h-1zM7 27h1v1h-1zM11 27h1v1h-1zM7 28h1v1h-1zM11 28h1v1h-1zM7 29h1v1h-1zM11 29h1v1h-1zM7 33h1v1h-1zM11 33h1v1h-1z"/><path fill="#932667" d="M9 13h1v1h-1zM9 16h1v1h-1zM9 17h1v1h-1zM9 18h1v1h-1zM9 31h1v1h-1zM7 34h1v1h-1zM11 34h1v1h-1z"/><path fill="#a82e5f" d="M9 19h1v1h-1zM9 20h1v1h-1zM9 21h1v1h-1zM9 22h1v1h-1zM9 23h1v1h-1zM9 24h1v1h-1zM9 25h1v1h-1zM9 30h1v1h-1zM9 32h1v1h-1zM7 35h1v1h-1zM11 35h1v1h-1zM9 37h1v1h-1z"/><path fill="#bc3754" d="M9 2h1v1h-1zM9 26h1v1h-1zM9 27h1v1h-1zM9 28h1v1h-1zM9 29h1v1h-1z"/><path fill="#cc4248" d="M8 3h1v1h-1zM10 3h1v1h-1zM8 4h3v1h-3zM9 9h1v1h-1zM9 10h1v1h-1zM8 14h3v1h-3zM8 15h3v1h-3zM9 33h1v1h-1zM9 36h1v1h-1z"/><path fill="#dd513a" d="M9 3h1v1h-1zM8 9h1v1h-1zM10 9h1v1h-1zM8 20h1v1h-1zM10 20h1v1h-1zM8 21h1v1h-1zM10 21h1v1h-1zM8 22h1v1h-1zM10 22h1v1h-1zM8 27h1v1h-1zM10 27h1v1h-1zM8 28h1v1h-1zM10 28h1v1h-1zM9 34h1v1h-1zM9 35h1v1h-1z"/><path fill="#ea632a" d="M8 5h3v1h-3zM9 8h1v1h-1zM8 10h1v1h-1zM10 10h1v1h-1zM8 19h1v1h-1zM10 19h1v1h-1zM8 23h1v1h-1zM10 23h1v1h-1zM8 26h1v1h-1zM10 26h1v1h-1zM8 29h1v1h-1zM10 29h1v1h-1zM8 34h1v1h-1zM10 34h1v1h-1zM8 35h1v1h-1zM10 35h1v1h-1z"/><path fill="#f37819" d="M8 8h1v1h-1zM10 8h1v1h-1zM8 13h1v1h-1zM10 13h1v1h-1zM8 16h1v1h-1zM10 16h1v1h-1zM8 17h1v1h-1zM10 17h1v1h-1zM8 18h1v1h-1zM10 18h1v1h-1zM8 24h1v1h-1zM10 24h1v1h-1zM8 25h1v1h-1zM10 25h1v1h-1zM8 33h1v1h-1zM10 33h1v1h-1z"/><path fill="#f98e09" d="M8 2h1v1h-1zM10 2h1v1h-1zM8 11h1v1h-1zM10 11h1v1h-1zM8 12h1v1h-1zM10 12h1v1h-1zM8 30h1v1h-1zM10 30h1v1h-1zM8 31h1v1h-1zM10 31h1v1h-1zM8 32h1v1h-1zM10 32h1v1h-1z"/><path fill="#fca50a" d="M8 0h1v1h-1zM10 0h1v1h-1zM8 1h1v1h-1zM10 1h1v1h-1z"/><path fill="#fbbe23" d="M8 36h1v1h-1zM10 36h1v1h-1z"/><path fill="#f6d746" d="M8 6h1v1h-1zM10 6h1v1h-1zM8 7h1v1h-1zM10 7h1v1h-1z"/><path fill="#fcffa4" d="M8 37h1v1h-1zM10 37h1v1h-1z"/></g>
</g>
<rect class="ax" x="172.70" y="19.40" width="87.63" height="82.75"/>
<rect class="ax" x="172.70" y="106.95" width="87.63" height="174.20"/>
<path class="tk" d="M172.70 278.86h-5.6M172.70 196.34h-5.6M172.70 113.83h-5.6M172.70 58.48h-5.6M175.01 281.15v5.6M175.01 102.15v-5.2M216.51 281.15v5.6M216.51 102.15v-5.2M258.02 281.15v5.6M258.02 102.15v-5.2"/>
<text class="w" x="176.6" y="36.0" font-size="16">(<tspan class="b" dx="0.5" font-size="15.5">c</tspan><tspan dx="0.5">)</tspan></text>
<g shape-rendering="crispEdges" filter="url(#bl)">
<g transform="translate(289.20,19.40) scale(4.6120,4.5972)"><path fill="#420a68" d="M7 1h1v1h-1zM9 1h1v1h-1zM11 1h1v1h-1zM8 2h1v1h-1zM10 2h1v1h-1zM7 3h1v1h-1zM9 3h1v1h-1zM11 3h1v1h-1zM8 4h1v1h-1zM10 4h1v1h-1zM9 8h1v1h-1zM7 9h1v1h-1zM9 9h1v1h-1zM11 9h1v1h-1zM8 10h1v1h-1zM10 10h1v1h-1zM7 13h1v1h-1zM11 13h1v1h-1zM7 15h1v1h-1zM9 15h1v1h-1zM11 15h1v1h-1z"/><path fill="#4c0c6b" d="M0 0h9v1h-9zM10 0h9v1h-9zM0 1h7v1h-7zM8 1h1v1h-1zM10 1h1v1h-1zM12 1h7v1h-7zM0 2h8v1h-8zM11 2h8v1h-8zM0 3h7v1h-7zM12 3h7v1h-7zM0 4h8v1h-8zM11 4h8v1h-8zM0 5h19v1h-19zM0 6h2v1h-2zM3 6h13v1h-13zM17 6h2v1h-2zM0 7h7v1h-7zM8 7h1v1h-1zM10 7h1v1h-1zM12 7h7v1h-7zM0 8h9v1h-9zM10 8h9v1h-9zM0 9h7v1h-7zM12 9h7v1h-7zM0 10h3v1h-3zM4 10h4v1h-4zM9 10h1v1h-1zM11 10h4v1h-4zM16 10h3v1h-3zM0 11h3v1h-3zM4 11h3v1h-3zM8 11h3v1h-3zM12 11h3v1h-3zM16 11h3v1h-3zM0 12h3v1h-3zM4 12h11v1h-11zM16 12h3v1h-3zM0 13h3v1h-3zM4 13h3v1h-3zM8 13h3v1h-3zM12 13h3v1h-3zM16 13h3v1h-3zM0 14h3v1h-3zM4 14h11v1h-11zM16 14h3v1h-3zM0 15h3v1h-3zM4 15h3v1h-3zM8 15h1v1h-1zM10 15h1v1h-1zM12 15h3v1h-3zM16 15h3v1h-3zM0 16h19v1h-19zM0 17h19v1h-19z"/><path fill="#57106e" d="M9 0h1v1h-1zM9 2h1v1h-1zM8 3h1v1h-1zM10 3h1v1h-1zM9 4h1v1h-1zM2 6h1v1h-1zM16 6h1v1h-1zM7 7h1v1h-1zM9 7h1v1h-1zM11 7h1v1h-1zM8 9h1v1h-1zM10 9h1v1h-1zM3 10h1v1h-1zM15 10h1v1h-1zM3 11h1v1h-1zM7 11h1v1h-1zM11 11h1v1h-1zM15 11h1v1h-1zM3 12h1v1h-1zM15 12h1v1h-1zM3 13h1v1h-1zM15 13h1v1h-1zM3 14h1v1h-1zM15 14h1v1h-1zM3 15h1v1h-1zM15 15h1v1h-1z"/></g>
<g transform="translate(289.20,106.95) scale(4.6120,4.5842)"><path fill="#000004" d="M1 30h2v1h-2zM16 30h2v1h-2zM0 33h1v1h-1zM2 33h1v1h-1zM4 33h1v1h-1zM6 33h1v1h-1zM12 33h1v1h-1zM14 33h1v1h-1zM16 33h1v1h-1zM18 33h1v1h-1zM1 34h1v1h-1zM3 34h1v1h-1zM5 34h1v1h-1zM13 34h1v1h-1zM15 34h1v1h-1zM17 34h1v1h-1zM0 35h1v1h-1zM18 35h1v1h-1zM8 36h1v1h-1zM10 36h1v1h-1zM0 37h9v1h-9zM10 37h9v1h-9z"/><path fill="#07051b" d="M0 30h1v1h-1zM3 30h3v1h-3zM8 30h1v1h-1zM10 30h1v1h-1zM13 30h3v1h-3zM18 30h1v1h-1zM1 32h1v1h-1zM3 32h1v1h-1zM15 32h1v1h-1zM17 32h1v1h-1zM2 35h1v1h-1zM4 35h1v1h-1zM6 35h2v1h-2zM11 35h2v1h-2zM14 35h1v1h-1zM16 35h1v1h-1z"/><path fill="#120a32" d="M6 11h1v1h-1zM12 11h1v1h-1zM9 12h1v1h-1zM5 15h1v1h-1zM7 15h1v1h-1zM11 15h1v1h-1zM13 15h1v1h-1zM2 16h1v1h-1zM16 16h1v1h-1zM6 18h1v1h-1zM12 18h1v1h-1zM1 20h1v1h-1zM3 20h1v1h-1zM15 20h1v1h-1zM17 20h1v1h-1zM4 23h1v1h-1zM8 23h1v1h-1zM10 23h1v1h-1zM14 23h1v1h-1zM1 25h1v1h-1zM17 25h1v1h-1zM0 26h1v1h-1zM18 26h1v1h-1zM1 27h1v1h-1zM7 27h1v1h-1zM9 27h1v1h-1zM11 27h1v1h-1zM17 27h1v1h-1zM0 28h1v1h-1zM2 28h1v1h-1zM16 28h1v1h-1zM18 28h1v1h-1zM3 29h1v1h-1zM15 29h1v1h-1z"/><path fill="#160b39" d="M4 2h1v1h-1zM14 2h1v1h-1zM2 7h1v1h-1zM16 7h1v1h-1zM2 14h1v1h-1zM16 14h1v1h-1zM3 15h1v1h-1zM9 15h1v1h-1zM15 15h1v1h-1zM4 16h1v1h-1zM14 16h1v1h-1zM1 18h2v1h-2zM4 18h1v1h-1zM8 18h1v1h-1zM10 18h1v1h-1zM14 18h1v1h-1zM16 18h2v1h-2zM7 19h1v1h-1zM11 19h1v1h-1zM5 20h1v1h-1zM8 20h3v1h-3zM13 20h1v1h-1zM1 22h1v1h-1zM3 22h1v1h-1zM5 22h1v1h-1zM7 22h5v1h-5zM13 22h1v1h-1zM15 22h1v1h-1zM17 22h1v1h-1zM6 23h1v1h-1zM12 23h1v1h-1zM2 25h1v1h-1zM6 25h1v1h-1zM12 25h1v1h-1zM16 25h1v1h-1zM7 26h1v1h-1zM9 26h1v1h-1zM11 26h1v1h-1zM3 27h1v1h-1zM8 27h1v1h-1zM10 27h1v1h-1zM15 27h1v1h-1zM0 31h1v1h-1zM6 31h1v1h-1zM9 31h1v1h-1zM12 31h1v1h-1zM18 31h1v1h-1zM2 32h1v1h-1zM4 32h2v1h-2zM13 32h2v1h-2zM16 32h1v1h-1zM7 34h1v1h-1zM11 34h1v1h-1z"/><path fill="#2b0b57" d="M0 0h1v1h-1zM2 0h1v1h-1zM16 0h1v1h-1zM18 0h1v1h-1zM3 1h1v1h-1zM15 1h1v1h-1zM0 2h3v1h-3zM16 2h3v1h-3zM5 3h1v1h-1zM13 3h1v1h-1zM0 4h2v1h-2zM3 4h2v1h-2zM14 4h2v1h-2zM17 4h2v1h-2zM7 5h1v1h-1zM9 5h1v1h-1zM11 5h1v1h-1zM1 6h1v1h-1zM3 6h2v1h-2zM8 6h1v1h-1zM10 6h1v1h-1zM14 6h2v1h-2zM17 6h1v1h-1zM0 7h1v1h-1zM9 7h1v1h-1zM18 7h1v1h-1zM1 8h1v1h-1zM3 8h1v1h-1zM5 8h1v1h-1zM7 8h5v1h-5zM13 8h1v1h-1zM15 8h1v1h-1zM17 8h1v1h-1zM0 9h1v1h-1zM18 9h1v1h-1zM3 10h1v1h-1zM7 10h1v1h-1zM9 10h1v1h-1zM11 10h1v1h-1zM15 10h1v1h-1zM0 11h1v1h-1zM2 11h3v1h-3zM8 11h1v1h-1zM10 11h1v1h-1zM14 11h3v1h-3zM18 11h1v1h-1zM7 12h1v1h-1zM11 12h1v1h-1zM3 13h1v1h-1zM5 13h1v1h-1zM13 13h1v1h-1zM15 13h1v1h-1zM0 14h1v1h-1zM9 14h1v1h-1zM18 14h1v1h-1zM8 15h1v1h-1zM10 15h1v1h-1zM6 16h1v1h-1zM12 16h1v1h-1zM7 17h1v1h-1zM9 17h1v1h-1zM11 17h1v1h-1zM3 18h1v1h-1zM15 18h1v1h-1zM9 19h1v1h-1zM6 20h2v1h-2zM11 20h2v1h-2zM6 22h1v1h-1zM12 22h1v1h-1zM0 23h3v1h-3zM16 23h3v1h-3zM9 24h1v1h-1zM3 25h1v1h-1zM8 25h1v1h-1zM10 25h1v1h-1zM15 25h1v1h-1zM2 26h1v1h-1zM4 26h1v1h-1zM14 26h1v1h-1zM16 26h1v1h-1zM5 27h1v1h-1zM13 27h1v1h-1zM1 28h1v1h-1zM4 28h2v1h-2zM13 28h2v1h-2zM17 28h1v1h-1zM7 29h5v1h-5zM6 30h1v1h-1zM12 30h1v1h-1zM7 33h1v1h-1zM9 33h1v1h-1zM11 33h1v1h-1zM8 34h3v1h-3zM1 36h1v1h-1zM3 36h1v1h-1zM5 36h1v1h-1zM13 36h1v1h-1zM15 36h1v1h-1zM17 36h1v1h-1z"/><path fill="#420a68" d="M4 0h1v1h-1zM7 0h1v1h-1zM9 0h1v1h-1zM11 0h1v1h-1zM14 0h1v1h-1zM1 1h1v1h-1zM5 1h2v1h-2zM12 1h2v1h-2zM17 1h1v1h-1zM7 2h1v1h-1zM11 2h1v1h-1zM3 3h1v1h-1zM6 3h7v1h-7zM15 3h1v1h-1zM2 4h1v1h-1zM6 4h1v1h-1zM8 4h1v1h-1zM10 4h1v1h-1zM12 4h1v1h-1zM16 4h1v1h-1zM0 5h1v1h-1zM2 5h1v1h-1zM5 5h1v1h-1zM13 5h1v1h-1zM16 5h1v1h-1zM18 5h1v1h-1zM5 6h3v1h-3zM11 6h3v1h-3zM7 7h1v1h-1zM11 7h1v1h-1zM4 8h1v1h-1zM6 8h1v1h-1zM12 8h1v1h-1zM14 8h1v1h-1zM1 9h3v1h-3zM6 9h1v1h-1zM12 9h1v1h-1zM15 9h3v1h-3zM5 10h1v1h-1zM8 10h1v1h-1zM10 10h1v1h-1zM13 10h1v1h-1zM1 11h1v1h-1zM17 11h1v1h-1zM0 12h1v1h-1zM2 12h4v1h-4zM13 12h4v1h-4zM18 12h1v1h-1zM2 13h1v1h-1zM4 13h1v1h-1zM6 13h2v1h-2zM9 13h1v1h-1zM11 13h2v1h-2zM14 13h1v1h-1zM16 13h1v1h-1zM7 14h1v1h-1zM11 14h1v1h-1zM1 15h1v1h-1zM6 15h1v1h-1zM12 15h1v1h-1zM17 15h1v1h-1zM0 16h2v1h-2zM8 16h1v1h-1zM10 16h1v1h-1zM17 16h2v1h-2zM5 17h1v1h-1zM8 17h1v1h-1zM10 17h1v1h-1zM13 17h1v1h-1zM2 19h1v1h-1zM16 19h1v1h-1zM4 21h1v1h-1zM7 21h5v1h-5zM14 21h1v1h-1zM3 23h1v1h-1zM15 23h1v1h-1zM0 24h1v1h-1zM4 24h1v1h-1zM6 24h2v1h-2zM11 24h2v1h-2zM14 24h1v1h-1zM18 24h1v1h-1zM0 25h1v1h-1zM4 25h2v1h-2zM13 25h2v1h-2zM18 25h1v1h-1zM5 26h2v1h-2zM12 26h2v1h-2zM6 27h1v1h-1zM12 27h1v1h-1zM6 28h1v1h-1zM12 28h1v1h-1zM1 29h1v1h-1zM6 29h1v1h-1zM12 29h1v1h-1zM17 29h1v1h-1zM7 31h1v1h-1zM11 31h1v1h-1zM0 32h1v1h-1zM9 32h1v1h-1zM18 32h1v1h-1zM1 35h1v1h-1zM3 35h1v1h-1zM5 35h1v1h-1zM8 35h1v1h-1zM10 35h1v1h-1zM13 35h1v1h-1zM15 35h1v1h-1zM17 35h1v1h-1z"/><path fill="#57106e" d="M1 0h1v1h-1zM5 0h1v1h-1zM13 0h1v1h-1zM17 0h1v1h-1zM0 1h1v1h-1zM4 1h1v1h-1zM7 1h5v1h-5zM14 1h1v1h-1zM18 1h1v1h-1zM3 2h1v1h-1zM15 2h1v1h-1zM0 3h1v1h-1zM18 3h1v1h-1zM5 4h1v1h-1zM13 4h1v1h-1zM6 5h1v1h-1zM8 5h1v1h-1zM10 5h1v1h-1zM12 5h1v1h-1zM0 6h1v1h-1zM2 6h1v1h-1zM9 6h1v1h-1zM16 6h1v1h-1zM18 6h1v1h-1zM1 7h1v1h-1zM4 7h2v1h-2zM13 7h2v1h-2zM17 7h1v1h-1zM4 9h2v1h-2zM13 9h2v1h-2zM0 10h1v1h-1zM4 10h1v1h-1zM6 10h1v1h-1zM12 10h1v1h-1zM14 10h1v1h-1zM18 10h1v1h-1zM5 11h1v1h-1zM13 11h1v1h-1zM0 13h2v1h-2zM8 13h1v1h-1zM10 13h1v1h-1zM17 13h2v1h-2zM3 14h3v1h-3zM13 14h3v1h-3zM2 15h1v1h-1zM16 15h1v1h-1zM3 16h1v1h-1zM15 16h1v1h-1zM1 17h2v1h-2zM6 17h1v1h-1zM12 17h1v1h-1zM16 17h2v1h-2zM0 18h1v1h-1zM5 18h1v1h-1zM13 18h1v1h-1zM18 18h1v1h-1zM4 19h2v1h-2zM13 19h2v1h-2zM4 20h1v1h-1zM14 20h1v1h-1zM0 21h2v1h-2zM3 21h1v1h-1zM5 21h2v1h-2zM12 21h2v1h-2zM15 21h1v1h-1zM17 21h2v1h-2zM0 22h1v1h-1zM18 22h1v1h-1zM5 24h1v1h-1zM13 24h1v1h-1zM7 25h1v1h-1zM9 25h1v1h-1zM11 25h1v1h-1zM0 27h1v1h-1zM18 27h1v1h-1zM7 28h2v1h-2zM10 28h2v1h-2zM0 29h1v1h-1zM5 29h1v1h-1zM13 29h1v1h-1zM18 29h1v1h-1zM2 31h1v1h-1zM4 31h1v1h-1zM14 31h1v1h-1zM16 31h1v1h-1zM6 32h3v1h-3zM10 32h3v1h-3zM7 36h1v1h-1zM11 36h1v1h-1z"/><path fill="#6a176e" d="M5 2h2v1h-2zM8 2h3v1h-3zM12 2h2v1h-2zM1 3h1v1h-1zM17 3h1v1h-1zM3 5h2v1h-2zM14 5h2v1h-2zM6 7h1v1h-1zM12 7h1v1h-1zM0 8h1v1h-1zM18 8h1v1h-1zM7 9h5v1h-5zM8 12h1v1h-1zM10 12h1v1h-1zM4 15h1v1h-1zM14 15h1v1h-1zM3 17h2v1h-2zM14 17h2v1h-2zM9 18h1v1h-1zM0 20h1v1h-1zM18 20h1v1h-1zM2 21h1v1h-1zM16 21h1v1h-1zM8 24h1v1h-1zM10 24h1v1h-1z"/><path fill="#7f1e6c" d="M6 0h1v1h-1zM8 0h1v1h-1zM10 0h1v1h-1zM12 0h1v1h-1zM2 3h1v1h-1zM4 3h1v1h-1zM14 3h1v1h-1zM16 3h1v1h-1zM7 4h1v1h-1zM11 4h1v1h-1zM1 10h2v1h-2zM16 10h2v1h-2zM7 11h1v1h-1zM11 11h1v1h-1zM6 12h1v1h-1zM12 12h1v1h-1zM6 14h1v1h-1zM8 14h1v1h-1zM10 14h1v1h-1zM12 14h1v1h-1zM5 16h1v1h-1zM9 16h1v1h-1zM13 16h1v1h-1zM7 18h1v1h-1zM11 18h1v1h-1zM0 19h2v1h-2zM17 19h2v1h-2zM4 22h1v1h-1zM14 22h1v1h-1zM5 23h1v1h-1zM13 23h1v1h-1zM1 24h2v1h-2zM16 24h2v1h-2zM1 26h1v1h-1zM8 26h1v1h-1zM10 26h1v1h-1zM17 26h1v1h-1zM9 28h1v1h-1zM3 31h1v1h-1zM8 31h1v1h-1zM10 31h1v1h-1zM15 31h1v1h-1z"/><path fill="#932667" d="M3 0h1v1h-1zM15 0h1v1h-1zM2 1h1v1h-1zM16 1h1v1h-1zM9 4h1v1h-1zM1 5h1v1h-1zM17 5h1v1h-1zM3 7h1v1h-1zM15 7h1v1h-1zM9 11h1v1h-1zM7 16h1v1h-1zM11 16h1v1h-1zM3 19h1v1h-1zM6 19h1v1h-1zM8 19h1v1h-1zM10 19h1v1h-1zM12 19h1v1h-1zM15 19h1v1h-1zM2 20h1v1h-1zM16 20h1v1h-1zM7 23h1v1h-1zM11 23h1v1h-1zM3 28h1v1h-1zM15 28h1v1h-1zM7 30h1v1h-1zM11 30h1v1h-1z"/><path fill="#a82e5f" d="M8 7h1v1h-1zM10 7h1v1h-1zM9 23h1v1h-1zM9 30h1v1h-1z"/><path fill="#bc3754" d="M2 8h1v1h-1zM16 8h1v1h-1zM1 14h1v1h-1zM17 14h1v1h-1zM0 15h1v1h-1zM18 15h1v1h-1zM3 24h1v1h-1zM15 24h1v1h-1zM2 27h1v1h-1zM16 27h1v1h-1zM8 33h1v1h-1zM10 33h1v1h-1zM0 34h1v1h-1zM2 34h1v1h-1zM4 34h1v1h-1zM14 34h1v1h-1zM16 34h1v1h-1zM18 34h1v1h-1zM0 36h1v1h-1zM2 36h1v1h-1zM4 36h1v1h-1zM6 36h1v1h-1zM12 36h1v1h-1zM14 36h1v1h-1zM16 36h1v1h-1zM18 36h1v1h-1z"/><path fill="#cc4248" d="M1 12h1v1h-1zM17 12h1v1h-1zM0 17h1v1h-1zM18 17h1v1h-1zM4 27h1v1h-1zM14 27h1v1h-1zM1 31h1v1h-1zM17 31h1v1h-1zM1 33h1v1h-1zM3 33h1v1h-1zM5 33h1v1h-1zM13 33h1v1h-1zM15 33h1v1h-1zM17 33h1v1h-1zM9 36h1v1h-1z"/><path fill="#dd513a" d="M2 22h1v1h-1zM16 22h1v1h-1zM5 31h1v1h-1zM13 31h1v1h-1zM6 34h1v1h-1zM12 34h1v1h-1z"/><path fill="#ea632a" d="M2 29h1v1h-1zM4 29h1v1h-1zM14 29h1v1h-1zM16 29h1v1h-1z"/><path fill="#f37819" d="M9 35h1v1h-1z"/><path fill="#f98e09" d="M3 26h1v1h-1zM15 26h1v1h-1z"/><path fill="#fcffa4" d="M9 37h1v1h-1z"/></g>
</g>
<rect class="ax" x="289.20" y="19.40" width="87.63" height="82.75"/>
<rect class="ax" x="289.20" y="106.95" width="87.63" height="174.20"/>
<path class="tk" d="M289.20 278.86h-5.6M289.20 196.34h-5.6M289.20 113.83h-5.6M289.20 58.48h-5.6M291.51 281.15v5.6M291.51 102.15v-5.2M333.01 281.15v5.6M333.01 102.15v-5.2M374.52 281.15v5.6M374.52 102.15v-5.2"/>
<text class="w" x="293.1" y="36.0" font-size="16">(<tspan class="b" dx="0.5" font-size="15.5">e</tspan><tspan dx="0.5">)</tspan></text>
<g shape-rendering="crispEdges" filter="url(#bl)">
<g transform="translate(405.60,19.40) scale(4.6120,4.5972)"><path fill="#b1325a" d="M0 0h19v1h-19zM0 1h19v1h-19zM0 2h19v1h-19zM0 3h19v1h-19zM0 4h19v1h-19zM0 5h19v1h-19zM0 6h19v1h-19zM0 7h19v1h-19zM0 8h19v1h-19zM0 9h19v1h-19zM0 10h19v1h-19zM0 11h19v1h-19zM0 12h19v1h-19zM0 13h19v1h-19zM0 14h19v1h-19zM0 15h19v1h-19zM0 16h19v1h-19zM0 17h19v1h-19z"/></g>
<g transform="translate(405.60,106.95) scale(4.6120,4.5842)"><path fill="#000004" d="M0 31h1v1h-1zM18 31h1v1h-1zM0 32h2v1h-2zM17 32h2v1h-2zM0 33h3v1h-3zM16 33h3v1h-3zM0 34h4v1h-4zM15 34h4v1h-4zM0 35h5v1h-5zM14 35h5v1h-5zM0 36h7v1h-7zM12 36h7v1h-7zM0 37h9v1h-9zM10 37h9v1h-9z"/><path fill="#07051b" d="M0 30h1v1h-1zM18 30h1v1h-1zM1 31h1v1h-1zM17 31h1v1h-1zM2 32h1v1h-1zM16 32h1v1h-1zM3 33h1v1h-1zM15 33h1v1h-1zM4 34h1v1h-1zM14 34h1v1h-1zM5 35h1v1h-1zM13 35h1v1h-1z"/><path fill="#0e092b" d="M0 29h1v1h-1zM18 29h1v1h-1z"/><path fill="#160b39" d="M1 30h1v1h-1zM17 30h1v1h-1zM2 31h1v1h-1zM16 31h1v1h-1z"/><path fill="#2b0b57" d="M3 32h1v1h-1zM15 32h1v1h-1zM4 33h1v1h-1zM14 33h1v1h-1zM6 35h1v1h-1zM12 35h1v1h-1z"/><path fill="#420a68" d="M0 28h1v1h-1zM18 28h1v1h-1zM2 30h1v1h-1zM16 30h1v1h-1zM5 34h1v1h-1zM13 34h1v1h-1z"/><path fill="#4c0c6b" d="M1 29h1v1h-1zM17 29h1v1h-1z"/><path fill="#57106e" d="M3 31h1v1h-1zM15 31h1v1h-1zM4 32h1v1h-1zM14 32h1v1h-1zM7 36h1v1h-1zM11 36h1v1h-1z"/><path fill="#5c126e" d="M1 28h1v1h-1zM17 28h1v1h-1z"/><path fill="#61136e" d="M0 6h1v1h-1zM18 6h1v1h-1zM0 7h1v1h-1zM18 7h1v1h-1zM0 8h2v1h-2zM17 8h2v1h-2zM0 9h2v1h-2zM17 9h2v1h-2zM0 10h3v1h-3zM16 10h3v1h-3zM0 11h3v1h-3zM16 11h3v1h-3zM0 12h3v1h-3zM16 12h3v1h-3zM1 13h2v1h-2zM16 13h2v1h-2zM2 14h1v1h-1zM16 14h1v1h-1zM2 15h1v1h-1zM16 15h1v1h-1zM8 20h3v1h-3zM6 21h7v1h-7zM5 22h9v1h-9zM5 23h3v1h-3zM11 23h3v1h-3z"/><path fill="#65156e" d="M1 7h1v1h-1zM17 7h1v1h-1zM2 9h1v1h-1zM16 9h1v1h-1zM3 11h1v1h-1zM15 11h1v1h-1zM3 12h1v1h-1zM15 12h1v1h-1zM0 13h1v1h-1zM3 13h1v1h-1zM15 13h1v1h-1zM18 13h1v1h-1zM1 14h1v1h-1zM3 14h1v1h-1zM15 14h1v1h-1zM17 14h1v1h-1zM1 15h1v1h-1zM17 15h1v1h-1zM1 16h2v1h-2zM16 16h2v1h-2zM1 17h2v1h-2zM16 17h2v1h-2zM1 18h1v1h-1zM17 18h1v1h-1zM9 19h1v1h-1zM7 20h1v1h-1zM11 20h1v1h-1zM4 23h1v1h-1zM8 23h3v1h-3zM14 23h1v1h-1zM4 24h3v1h-3zM12 24h3v1h-3zM0 27h1v1h-1zM18 27h1v1h-1z"/><path fill="#6a176e" d="M0 5h1v1h-1zM18 5h1v1h-1zM1 6h1v1h-1zM17 6h1v1h-1zM2 7h1v1h-1zM16 7h1v1h-1zM2 8h1v1h-1zM16 8h1v1h-1zM3 10h1v1h-1zM15 10h1v1h-1zM0 14h1v1h-1zM18 14h1v1h-1zM3 15h1v1h-1zM15 15h1v1h-1zM3 16h1v1h-1zM15 16h1v1h-1zM2 18h1v1h-1zM16 18h1v1h-1zM1 19h1v1h-1zM8 19h1v1h-1zM10 19h1v1h-1zM17 19h1v1h-1zM6 20h1v1h-1zM12 20h1v1h-1zM5 21h1v1h-1zM13 21h1v1h-1zM4 22h1v1h-1zM14 22h1v1h-1zM3 24h1v1h-1zM7 24h2v1h-2zM10 24h2v1h-2zM15 24h1v1h-1zM4 25h2v1h-2zM13 25h2v1h-2zM1 27h1v1h-1zM17 27h1v1h-1zM3 30h2v1h-2zM14 30h2v1h-2zM4 31h1v1h-1zM14 31h1v1h-1zM5 33h1v1h-1zM13 33h1v1h-1z"/><path fill="#71196e" d="M0 4h1v1h-1zM18 4h1v1h-1zM1 5h1v1h-1zM17 5h1v1h-1zM2 6h1v1h-1zM16 6h1v1h-1zM3 9h1v1h-1zM15 9h1v1h-1zM4 11h1v1h-1zM14 11h1v1h-1zM4 12h1v1h-1zM14 12h1v1h-1zM4 13h1v1h-1zM14 13h1v1h-1zM4 14h1v1h-1zM14 14h1v1h-1zM0 15h1v1h-1zM4 15h1v1h-1zM14 15h1v1h-1zM18 15h1v1h-1zM0 16h1v1h-1zM18 16h1v1h-1zM0 17h1v1h-1zM3 17h1v1h-1zM15 17h1v1h-1zM18 17h1v1h-1zM0 18h1v1h-1zM9 18h1v1h-1zM18 18h1v1h-1zM0 19h1v1h-1zM2 19h1v1h-1zM7 19h1v1h-1zM11 19h1v1h-1zM16 19h1v1h-1zM18 19h1v1h-1zM0 20h2v1h-2zM17 20h2v1h-2zM3 23h1v1h-1zM15 23h1v1h-1zM9 24h1v1h-1zM3 25h1v1h-1zM6 25h2v1h-2zM11 25h2v1h-2zM15 25h1v1h-1zM2 28h1v1h-1zM16 28h1v1h-1z"/><path fill="#751b6e" d="M0 3h2v1h-2zM17 3h2v1h-2zM1 4h2v1h-2zM16 4h2v1h-2zM2 5h2v1h-2zM15 5h2v1h-2zM3 6h1v1h-1zM15 6h1v1h-1zM3 8h1v1h-1zM15 8h1v1h-1zM4 10h1v1h-1zM14 10h1v1h-1zM5 13h1v1h-1zM13 13h1v1h-1zM5 14h1v1h-1zM13 14h1v1h-1zM5 15h1v1h-1zM13 15h1v1h-1zM4 16h1v1h-1zM14 16h1v1h-1zM9 17h1v1h-1zM3 18h1v1h-1zM8 18h1v1h-1zM10 18h1v1h-1zM15 18h1v1h-1zM2 20h1v1h-1zM5 20h1v1h-1zM13 20h1v1h-1zM16 20h1v1h-1zM0 21h1v1h-1zM4 21h1v1h-1zM14 21h1v1h-1zM18 21h1v1h-1zM2 24h1v1h-1zM2 25h1v1h-1zM8 25h3v1h-3zM2 26h15v1h-15zM2 27h15v1h-15zM3 28h13v1h-13zM2 29h7v1h-7zM10 29h7v1h-7z"/><path fill="#7a1d6d" d="M0 2h1v1h-1zM18 2h1v1h-1zM2 3h1v1h-1zM16 3h1v1h-1zM3 4h1v1h-1zM15 4h1v1h-1zM3 7h1v1h-1zM15 7h1v1h-1zM5 12h1v1h-1zM13 12h1v1h-1zM6 14h1v1h-1zM12 14h1v1h-1zM5 16h1v1h-1zM13 16h1v1h-1zM4 17h1v1h-1zM8 17h1v1h-1zM10 17h1v1h-1zM14 17h1v1h-1zM7 18h1v1h-1zM11 18h1v1h-1zM3 19h1v1h-1zM6 19h1v1h-1zM12 19h1v1h-1zM15 19h1v1h-1zM1 21h1v1h-1zM17 21h1v1h-1zM3 22h1v1h-1zM15 22h1v1h-1zM2 23h1v1h-1zM16 23h1v1h-1zM16 24h1v1h-1zM16 25h1v1h-1zM1 26h1v1h-1zM17 26h1v1h-1z"/><path fill="#7f1e6c" d="M1 2h1v1h-1zM17 2h1v1h-1zM4 5h1v1h-1zM14 5h1v1h-1zM4 6h1v1h-1zM14 6h1v1h-1zM4 9h1v1h-1zM14 9h1v1h-1zM5 11h1v1h-1zM13 11h1v1h-1zM6 13h1v1h-1zM12 13h1v1h-1zM6 15h1v1h-1zM12 15h1v1h-1zM9 16h1v1h-1zM5 17h1v1h-1zM13 17h1v1h-1zM4 18h1v1h-1zM14 18h1v1h-1zM4 19h2v1h-2zM13 19h2v1h-2zM3 20h2v1h-2zM14 20h2v1h-2zM2 21h2v1h-2zM15 21h2v1h-2zM0 22h2v1h-2zM16 22h3v1h-3zM5 30h9v1h-9zM5 31h9v1h-9zM5 32h1v1h-1zM7 32h2v1h-2zM10 32h2v1h-2zM13 32h1v1h-1zM7 33h1v1h-1zM9 33h1v1h-1zM11 33h1v1h-1zM6 34h1v1h-1zM12 34h1v1h-1z"/><path fill="#84206b" d="M2 2h1v1h-1zM16 2h1v1h-1zM3 3h1v1h-1zM15 3h1v1h-1zM4 4h1v1h-1zM14 4h1v1h-1zM4 7h1v1h-1zM14 7h1v1h-1zM4 8h1v1h-1zM14 8h1v1h-1zM5 10h1v1h-1zM13 10h1v1h-1zM6 16h1v1h-1zM8 16h1v1h-1zM10 16h1v1h-1zM12 16h1v1h-1zM7 17h1v1h-1zM11 17h1v1h-1zM5 18h2v1h-2zM12 18h2v1h-2zM2 22h1v1h-1zM1 23h1v1h-1zM17 23h1v1h-1zM1 25h1v1h-1zM17 25h1v1h-1zM0 26h1v1h-1zM18 26h1v1h-1z"/><path fill="#8a226a" d="M2 0h15v1h-15zM0 1h19v1h-19zM3 2h13v1h-13zM4 3h11v1h-11zM5 4h9v1h-9zM5 5h1v1h-1zM8 5h3v1h-3zM13 5h1v1h-1zM9 6h1v1h-1zM13 6h1v1h-1zM9 7h1v1h-1zM6 12h1v1h-1zM12 12h1v1h-1zM7 14h1v1h-1zM11 14h1v1h-1zM7 15h1v1h-1zM11 15h1v1h-1zM7 16h1v1h-1zM11 16h1v1h-1zM6 17h1v1h-1zM12 17h1v1h-1zM0 23h1v1h-1zM18 23h1v1h-1zM1 24h1v1h-1zM17 24h1v1h-1zM9 29h1v1h-1z"/><path fill="#8f2469" d="M1 0h1v1h-1zM17 0h1v1h-1zM6 5h2v1h-2zM11 5h2v1h-2zM5 6h1v1h-1zM8 6h1v1h-1zM10 6h1v1h-1zM5 9h1v1h-1zM13 9h1v1h-1zM6 11h1v1h-1zM12 11h1v1h-1zM8 15h3v1h-3z"/><path fill="#932667" d="M0 0h1v1h-1zM18 0h1v1h-1zM7 6h1v1h-1zM11 6h1v1h-1zM5 7h1v1h-1zM8 7h1v1h-1zM10 7h1v1h-1zM13 7h1v1h-1zM5 8h1v1h-1zM8 8h3v1h-3zM13 8h1v1h-1zM6 10h1v1h-1zM12 10h1v1h-1zM7 13h1v1h-1zM11 13h1v1h-1zM8 14h1v1h-1zM10 14h1v1h-1zM0 24h1v1h-1zM18 24h1v1h-1zM0 25h1v1h-1zM18 25h1v1h-1zM6 32h1v1h-1zM9 32h1v1h-1zM12 32h1v1h-1zM6 33h1v1h-1zM8 33h1v1h-1zM10 33h1v1h-1zM12 33h1v1h-1zM8 34h3v1h-3zM7 35h1v1h-1zM11 35h1v1h-1z"/><path fill="#982766" d="M6 6h1v1h-1zM12 6h1v1h-1zM7 7h1v1h-1zM11 7h1v1h-1zM6 9h1v1h-1zM9 9h1v1h-1zM12 9h1v1h-1zM7 12h1v1h-1zM11 12h1v1h-1zM9 14h1v1h-1z"/><path fill="#9d2964" d="M6 7h1v1h-1zM12 7h1v1h-1zM6 8h2v1h-2zM11 8h2v1h-2zM7 9h2v1h-2zM10 9h2v1h-2zM7 10h1v1h-1zM11 10h1v1h-1zM7 11h1v1h-1zM11 11h1v1h-1zM8 13h1v1h-1zM10 13h1v1h-1z"/><path fill="#a32c61" d="M8 10h3v1h-3zM8 12h1v1h-1zM10 12h1v1h-1zM9 13h1v1h-1z"/><path fill="#a82e5f" d="M8 11h3v1h-3zM9 12h1v1h-1zM7 34h1v1h-1zM11 34h1v1h-1zM9 35h1v1h-1z"/><path fill="#dd513a" d="M8 35h1v1h-1zM10 35h1v1h-1zM8 36h1v1h-1zM10 36h1v1h-1z"/><path fill="#ea632a" d="M9 36h1v1h-1z"/><path fill="#fcffa4" d="M9 37h1v1h-1z"/></g>
</g>
<rect class="ax" x="405.60" y="19.40" width="87.63" height="82.75"/>
<rect class="ax" x="405.60" y="106.95" width="87.63" height="174.20"/>
<path class="tk" d="M405.60 278.86h-5.6M405.60 196.34h-5.6M405.60 113.83h-5.6M405.60 58.48h-5.6M407.91 281.15v5.6M407.91 102.15v-5.2M449.41 281.15v5.6M449.41 102.15v-5.2M490.92 281.15v5.6M490.92 102.15v-5.2"/>
<text class="w" x="409.5" y="36.0" font-size="16">(<tspan class="b" dx="0.5" font-size="15.5">g</tspan><tspan dx="0.5">)</tspan></text>
<g shape-rendering="crispEdges" filter="url(#bl)">
<g transform="translate(522.20,19.40) scale(4.6120,4.5972)"><path fill="#bc3754" d="M0 0h19v1h-19zM0 1h19v1h-19zM0 2h19v1h-19zM0 3h19v1h-19zM0 4h19v1h-19zM0 5h19v1h-19zM0 6h19v1h-19zM0 7h19v1h-19zM0 8h19v1h-19zM0 9h19v1h-19zM0 10h19v1h-19zM0 11h19v1h-19zM0 12h19v1h-19zM0 13h19v1h-19zM0 14h19v1h-19zM0 15h19v1h-19zM0 16h19v1h-19zM0 17h19v1h-19z"/></g>
<g transform="translate(522.20,106.95) scale(4.6120,4.5842)"><path fill="#000004" d="M0 36h3v1h-3zM16 36h3v1h-3zM0 37h8v1h-8zM9 37h1v1h-1zM11 37h8v1h-8z"/><path fill="#07051b" d="M0 35h1v1h-1zM18 35h1v1h-1zM3 36h1v1h-1zM15 36h1v1h-1z"/><path fill="#160b39" d="M1 35h1v1h-1zM17 35h1v1h-1z"/><path fill="#2b0b57" d="M2 35h1v1h-1zM16 35h1v1h-1zM4 36h1v1h-1zM14 36h1v1h-1z"/><path fill="#420a68" d="M0 34h1v1h-1zM18 34h1v1h-1zM3 35h1v1h-1zM15 35h1v1h-1z"/><path fill="#57106e" d="M0 33h1v1h-1zM18 33h1v1h-1zM5 36h1v1h-1zM9 36h1v1h-1zM13 36h1v1h-1z"/><path fill="#6a176e" d="M0 32h1v1h-1zM18 32h1v1h-1zM1 34h1v1h-1zM17 34h1v1h-1z"/><path fill="#7f1e6c" d="M0 31h1v1h-1zM18 31h1v1h-1zM3 34h1v1h-1zM15 34h1v1h-1zM4 35h1v1h-1zM14 35h1v1h-1z"/><path fill="#932667" d="M0 30h1v1h-1zM18 30h1v1h-1zM3 33h1v1h-1zM15 33h1v1h-1zM2 34h1v1h-1zM16 34h1v1h-1zM6 36h1v1h-1zM12 36h1v1h-1z"/><path fill="#a82e5f" d="M0 29h1v1h-1zM18 29h1v1h-1zM3 32h1v1h-1zM15 32h1v1h-1zM2 33h1v1h-1zM4 33h1v1h-1zM14 33h1v1h-1zM16 33h1v1h-1zM4 34h1v1h-1zM14 34h1v1h-1zM5 35h1v1h-1zM9 35h1v1h-1zM13 35h1v1h-1zM7 36h1v1h-1zM11 36h1v1h-1z"/><path fill="#bc3754" d="M0 0h19v1h-19zM0 1h19v1h-19zM0 2h19v1h-19zM0 3h19v1h-19zM0 4h19v1h-19zM0 5h19v1h-19zM0 6h19v1h-19zM0 7h19v1h-19zM0 8h19v1h-19zM0 9h19v1h-19zM0 10h19v1h-19zM0 11h19v1h-19zM0 12h19v1h-19zM0 13h19v1h-19zM0 14h19v1h-19zM0 15h19v1h-19zM0 16h19v1h-19zM0 17h19v1h-19zM0 18h19v1h-19zM0 19h19v1h-19zM0 20h19v1h-19zM0 21h19v1h-19zM0 22h19v1h-19zM0 23h19v1h-19zM0 24h19v1h-19zM0 25h19v1h-19zM0 26h19v1h-19zM0 27h19v1h-19zM0 28h19v1h-19zM1 29h17v1h-17zM1 30h17v1h-17zM2 31h15v1h-15zM2 32h1v1h-1zM4 32h11v1h-11zM16 32h1v1h-1zM5 33h1v1h-1zM7 33h2v1h-2zM10 33h2v1h-2zM13 33h1v1h-1zM5 34h1v1h-1zM7 34h1v1h-1zM9 34h1v1h-1zM11 34h1v1h-1zM13 34h1v1h-1zM7 35h1v1h-1zM11 35h1v1h-1z"/><path fill="#cc4248" d="M1 31h1v1h-1zM17 31h1v1h-1zM1 32h1v1h-1zM17 32h1v1h-1zM1 33h1v1h-1zM6 33h1v1h-1zM9 33h1v1h-1zM12 33h1v1h-1zM17 33h1v1h-1zM8 34h1v1h-1zM10 34h1v1h-1zM6 35h1v1h-1zM8 35h1v1h-1zM10 35h1v1h-1zM12 35h1v1h-1z"/><path fill="#dd513a" d="M6 34h1v1h-1zM12 34h1v1h-1z"/><path fill="#ea632a" d="M8 36h1v1h-1zM10 36h1v1h-1z"/><path fill="#fcffa4" d="M8 37h1v1h-1zM10 37h1v1h-1z"/></g>
</g>
<rect class="ax" x="522.20" y="19.40" width="87.63" height="82.75"/>
<rect class="ax" x="522.20" y="106.95" width="87.63" height="174.20"/>
<path class="tk" d="M522.20 278.86h-5.6M522.20 196.34h-5.6M522.20 113.83h-5.6M522.20 58.48h-5.6M524.51 281.15v5.6M524.51 102.15v-5.2M566.01 281.15v5.6M566.01 102.15v-5.2M607.52 281.15v5.6M607.52 102.15v-5.2"/>
<text class="w" x="526.1" y="36.0" font-size="16">(<tspan class="b" dx="0.5" font-size="15.5">i</tspan><tspan dx="0.5">)</tspan></text>
<g shape-rendering="crispEdges" filter="url(#bl)">
<g transform="translate(56.40,320.60) scale(4.6120,4.5889)"><path fill="#000004" d="M0 6h1v1h-1zM18 6h1v1h-1z"/><path fill="#07051b" d="M0 15h1v1h-1zM18 15h1v1h-1z"/><path fill="#2b0b57" d="M0 14h1v1h-1zM18 14h1v1h-1z"/><path fill="#420a68" d="M0 5h1v1h-1zM18 5h1v1h-1zM0 7h1v1h-1zM18 7h1v1h-1zM0 13h1v1h-1zM18 13h1v1h-1z"/><path fill="#57106e" d="M0 0h1v1h-1zM18 0h1v1h-1z"/><path fill="#7f1e6c" d="M1 7h1v1h-1zM17 7h1v1h-1zM0 8h1v1h-1zM18 8h1v1h-1z"/><path fill="#932667" d="M0 2h1v1h-1zM18 2h1v1h-1zM1 8h1v1h-1zM17 8h1v1h-1zM1 15h1v1h-1zM17 15h1v1h-1zM0 16h1v1h-1zM18 16h1v1h-1z"/><path fill="#a82e5f" d="M1 6h1v1h-1zM17 6h1v1h-1zM0 9h1v1h-1zM18 9h1v1h-1zM1 14h1v1h-1zM17 14h1v1h-1z"/><path fill="#bc3754" d="M0 1h1v1h-1zM18 1h1v1h-1zM0 3h1v1h-1zM18 3h1v1h-1zM0 4h1v1h-1zM18 4h1v1h-1zM1 5h1v1h-1zM17 5h1v1h-1z"/><path fill="#cc4248" d="M1 4h1v1h-1zM17 4h1v1h-1zM2 5h1v1h-1zM16 5h1v1h-1zM2 6h1v1h-1zM16 6h1v1h-1zM2 7h1v1h-1zM16 7h1v1h-1z"/><path fill="#dd513a" d="M1 2h1v1h-1zM17 2h1v1h-1zM1 3h2v1h-2zM16 3h2v1h-2zM2 4h1v1h-1zM16 4h1v1h-1zM1 9h1v1h-1zM17 9h1v1h-1zM0 10h1v1h-1zM18 10h1v1h-1z"/><path fill="#ea632a" d="M1 1h1v1h-1zM17 1h1v1h-1zM2 2h1v1h-1zM16 2h1v1h-1zM2 8h1v1h-1zM16 8h1v1h-1zM0 17h1v1h-1zM18 17h1v1h-1z"/><path fill="#f37819" d="M2 1h1v1h-1zM16 1h1v1h-1zM3 7h1v1h-1zM15 7h1v1h-1zM0 12h1v1h-1zM18 12h1v1h-1z"/><path fill="#f98e09" d="M1 0h2v1h-2zM16 0h2v1h-2zM3 4h1v1h-1zM15 4h1v1h-1zM3 5h1v1h-1zM15 5h1v1h-1zM3 6h1v1h-1zM15 6h1v1h-1zM1 10h1v1h-1zM17 10h1v1h-1zM1 13h1v1h-1zM17 13h1v1h-1zM1 16h1v1h-1zM17 16h1v1h-1z"/><path fill="#fca50a" d="M3 3h1v1h-1zM15 3h1v1h-1zM4 5h1v1h-1zM14 5h1v1h-1zM0 11h1v1h-1zM18 11h1v1h-1zM2 14h1v1h-1zM16 14h1v1h-1zM2 15h1v1h-1zM16 15h1v1h-1zM8 17h3v1h-3z"/><path fill="#fbbe23" d="M3 0h1v1h-1zM15 0h1v1h-1zM3 2h1v1h-1zM15 2h1v1h-1zM4 6h1v1h-1zM14 6h1v1h-1zM3 8h1v1h-1zM15 8h1v1h-1zM2 9h1v1h-1zM16 9h1v1h-1zM1 11h1v1h-1zM17 11h1v1h-1zM1 12h1v1h-1zM17 12h1v1h-1zM2 13h1v1h-1zM16 13h1v1h-1zM2 16h1v1h-1zM16 16h1v1h-1zM1 17h1v1h-1zM17 17h1v1h-1z"/><path fill="#f6d746" d="M3 1h1v1h-1zM15 1h1v1h-1zM4 4h1v1h-1zM14 4h1v1h-1zM4 7h1v1h-1zM14 7h1v1h-1zM3 9h1v1h-1zM15 9h1v1h-1zM2 10h2v1h-2zM15 10h2v1h-2zM2 11h2v1h-2zM15 11h2v1h-2zM2 12h2v1h-2zM15 12h2v1h-2zM3 13h1v1h-1zM15 13h1v1h-1zM3 14h1v1h-1zM15 14h1v1h-1zM3 15h1v1h-1zM15 15h1v1h-1zM3 16h2v1h-2zM9 16h1v1h-1zM14 16h2v1h-2zM2 17h3v1h-3zM7 17h1v1h-1zM11 17h1v1h-1zM14 17h3v1h-3z"/><path fill="#f1ef75" d="M4 2h1v1h-1zM14 2h1v1h-1zM4 3h1v1h-1zM14 3h1v1h-1zM5 4h1v1h-1zM13 4h1v1h-1zM5 5h1v1h-1zM13 5h1v1h-1zM5 6h1v1h-1zM13 6h1v1h-1zM5 7h1v1h-1zM13 7h1v1h-1zM4 8h1v1h-1zM14 8h1v1h-1zM4 9h2v1h-2zM13 9h2v1h-2zM4 10h3v1h-3zM12 10h3v1h-3zM4 11h2v1h-2zM13 11h2v1h-2zM4 12h2v1h-2zM13 12h2v1h-2zM4 13h1v1h-1zM14 13h1v1h-1zM4 15h1v1h-1zM14 15h1v1h-1zM5 16h1v1h-1zM13 16h1v1h-1zM5 17h2v1h-2zM12 17h2v1h-2z"/><path fill="#fcffa4" d="M4 0h11v1h-11zM4 1h11v1h-11zM5 2h9v1h-9zM5 3h9v1h-9zM6 4h7v1h-7zM6 5h7v1h-7zM6 6h7v1h-7zM6 7h7v1h-7zM5 8h9v1h-9zM6 9h7v1h-7zM7 10h5v1h-5zM6 11h7v1h-7zM6 12h7v1h-7zM5 13h9v1h-9zM4 14h11v1h-11zM5 15h9v1h-9zM6 16h3v1h-3zM10 16h3v1h-3z"/></g>
<g transform="translate(56.40,407.95) scale(4.6120,4.5842)"><path fill="#000004" d="M0 32h1v1h-1zM18 32h1v1h-1zM0 33h2v1h-2zM17 33h2v1h-2zM0 34h3v1h-3zM16 34h3v1h-3zM0 35h5v1h-5zM14 35h5v1h-5zM0 36h7v1h-7zM12 36h7v1h-7zM0 37h19v1h-19z"/><path fill="#07051b" d="M0 18h1v1h-1zM18 18h1v1h-1zM0 19h1v1h-1zM18 19h1v1h-1zM0 20h1v1h-1zM18 20h1v1h-1zM0 21h1v1h-1zM18 21h1v1h-1zM0 22h1v1h-1zM18 22h1v1h-1zM2 33h1v1h-1zM16 33h1v1h-1z"/><path fill="#160b39" d="M0 3h1v1h-1zM18 3h1v1h-1zM0 6h1v1h-1zM18 6h1v1h-1zM0 23h1v1h-1zM18 23h1v1h-1zM3 34h1v1h-1zM15 34h1v1h-1z"/><path fill="#2b0b57" d="M0 17h1v1h-1zM18 17h1v1h-1z"/><path fill="#420a68" d="M0 2h1v1h-1zM18 2h1v1h-1zM1 3h1v1h-1zM17 3h1v1h-1zM0 4h1v1h-1zM18 4h1v1h-1zM0 5h1v1h-1zM18 5h1v1h-1zM0 24h1v1h-1zM18 24h1v1h-1zM0 27h1v1h-1zM18 27h1v1h-1zM0 31h1v1h-1zM18 31h1v1h-1z"/><path fill="#57106e" d="M0 1h1v1h-1zM18 1h1v1h-1zM0 9h1v1h-1zM18 9h1v1h-1zM0 11h1v1h-1zM18 11h1v1h-1zM1 19h1v1h-1zM17 19h1v1h-1zM1 20h1v1h-1zM17 20h1v1h-1zM1 21h1v1h-1zM17 21h1v1h-1zM0 25h1v1h-1zM18 25h1v1h-1zM4 34h1v1h-1zM14 34h1v1h-1z"/><path fill="#6a176e" d="M0 8h1v1h-1zM18 8h1v1h-1zM1 22h1v1h-1zM17 22h1v1h-1zM5 35h1v1h-1zM13 35h1v1h-1z"/><path fill="#7f1e6c" d="M0 7h1v1h-1zM18 7h1v1h-1zM0 12h1v1h-1zM18 12h1v1h-1zM1 32h1v1h-1zM17 32h1v1h-1z"/><path fill="#932667" d="M1 4h1v1h-1zM17 4h1v1h-1zM1 5h1v1h-1zM17 5h1v1h-1zM0 16h1v1h-1zM18 16h1v1h-1zM1 18h1v1h-1zM17 18h1v1h-1zM0 26h1v1h-1zM18 26h1v1h-1zM6 35h1v1h-1zM12 35h1v1h-1z"/><path fill="#a82e5f" d="M1 2h1v1h-1zM17 2h1v1h-1zM2 32h1v1h-1zM16 32h1v1h-1z"/><path fill="#bc3754" d="M2 4h1v1h-1zM16 4h1v1h-1zM1 6h1v1h-1zM17 6h1v1h-1zM1 23h1v1h-1zM17 23h1v1h-1z"/><path fill="#cc4248" d="M1 7h1v1h-1zM17 7h1v1h-1z"/><path fill="#dd513a" d="M2 3h1v1h-1zM16 3h1v1h-1zM1 8h1v1h-1zM17 8h1v1h-1zM0 10h1v1h-1zM18 10h1v1h-1zM1 17h1v1h-1zM17 17h1v1h-1zM2 19h1v1h-1zM16 19h1v1h-1zM2 20h1v1h-1zM16 20h1v1h-1zM1 24h1v1h-1zM17 24h1v1h-1zM1 26h1v1h-1zM17 26h1v1h-1zM1 27h1v1h-1zM17 27h1v1h-1zM0 30h1v1h-1zM18 30h1v1h-1zM3 33h1v1h-1zM15 33h1v1h-1zM7 36h1v1h-1zM9 36h1v1h-1zM11 36h1v1h-1z"/><path fill="#ea632a" d="M0 0h1v1h-1zM18 0h1v1h-1zM2 5h1v1h-1zM16 5h1v1h-1zM0 15h1v1h-1zM18 15h1v1h-1zM1 16h1v1h-1zM17 16h1v1h-1zM2 18h1v1h-1zM16 18h1v1h-1zM2 21h1v1h-1zM16 21h1v1h-1zM0 28h1v1h-1zM18 28h1v1h-1z"/><path fill="#f37819" d="M2 2h1v1h-1zM16 2h1v1h-1zM3 4h1v1h-1zM15 4h1v1h-1zM3 5h1v1h-1zM15 5h1v1h-1zM2 6h2v1h-2zM15 6h2v1h-2zM1 11h1v1h-1zM17 11h1v1h-1zM1 15h1v1h-1zM17 15h1v1h-1zM2 17h1v1h-1zM16 17h1v1h-1zM2 22h1v1h-1zM16 22h1v1h-1z"/><path fill="#f98e09" d="M1 1h1v1h-1zM17 1h1v1h-1zM3 3h1v1h-1zM15 3h1v1h-1zM4 4h1v1h-1zM14 4h1v1h-1zM1 9h1v1h-1zM17 9h1v1h-1zM1 10h1v1h-1zM17 10h1v1h-1zM0 14h1v1h-1zM18 14h1v1h-1zM2 16h1v1h-1zM16 16h1v1h-1zM3 18h1v1h-1zM15 18h1v1h-1zM3 19h1v1h-1zM15 19h1v1h-1zM2 23h1v1h-1zM9 23h1v1h-1zM16 23h1v1h-1zM9 24h1v1h-1zM1 25h1v1h-1zM9 25h1v1h-1zM17 25h1v1h-1zM9 26h1v1h-1zM7 27h1v1h-1zM9 27h1v1h-1zM11 27h1v1h-1zM8 28h3v1h-3zM8 29h3v1h-3zM9 30h1v1h-1zM8 31h3v1h-3zM9 32h1v1h-1zM8 33h3v1h-3zM9 34h1v1h-1zM9 35h1v1h-1z"/><path fill="#fca50a" d="M1 0h1v1h-1zM17 0h1v1h-1zM2 1h1v1h-1zM16 1h1v1h-1zM4 3h1v1h-1zM14 3h1v1h-1zM4 5h1v1h-1zM14 5h1v1h-1zM2 7h1v1h-1zM16 7h1v1h-1zM9 8h1v1h-1zM0 13h1v1h-1zM18 13h1v1h-1zM1 14h1v1h-1zM17 14h1v1h-1zM3 17h1v1h-1zM15 17h1v1h-1zM4 18h1v1h-1zM14 18h1v1h-1zM4 19h1v1h-1zM14 19h1v1h-1zM3 20h1v1h-1zM15 20h1v1h-1zM3 21h1v1h-1zM15 21h1v1h-1zM8 23h1v1h-1zM10 23h1v1h-1zM8 24h1v1h-1zM10 24h1v1h-1zM6 25h3v1h-3zM10 25h3v1h-3zM6 26h3v1h-3zM10 26h3v1h-3zM4 27h3v1h-3zM8 27h1v1h-1zM10 27h1v1h-1zM12 27h3v1h-3zM5 28h3v1h-3zM11 28h3v1h-3zM5 29h3v1h-3zM11 29h3v1h-3zM6 30h3v1h-3zM10 30h3v1h-3zM1 31h1v1h-1zM6 31h2v1h-2zM11 31h2v1h-2zM17 31h1v1h-1zM7 32h2v1h-2zM10 32h2v1h-2zM4 33h1v1h-1zM7 33h1v1h-1zM11 33h1v1h-1zM14 33h1v1h-1zM5 34h1v1h-1zM13 34h1v1h-1zM7 35h1v1h-1zM11 35h1v1h-1zM8 36h1v1h-1zM10 36h1v1h-1z"/><path fill="#fbbe23" d="M2 0h1v1h-1zM16 0h1v1h-1zM3 2h2v1h-2zM14 2h2v1h-2zM5 4h1v1h-1zM13 4h1v1h-1zM5 5h1v1h-1zM13 5h1v1h-1zM4 6h1v1h-1zM14 6h1v1h-1zM3 7h2v1h-2zM14 7h2v1h-2zM2 8h2v1h-2zM8 8h1v1h-1zM10 8h1v1h-1zM15 8h2v1h-2zM2 9h1v1h-1zM16 9h1v1h-1zM1 12h1v1h-1zM17 12h1v1h-1zM1 13h2v1h-2zM16 13h2v1h-2zM2 15h1v1h-1zM16 15h1v1h-1zM4 20h1v1h-1zM14 20h1v1h-1zM3 22h1v1h-1zM9 22h1v1h-1zM15 22h1v1h-1zM2 24h1v1h-1zM7 24h1v1h-1zM11 24h1v1h-1zM16 24h1v1h-1zM2 25h1v1h-1zM16 25h1v1h-1zM5 26h1v1h-1zM13 26h1v1h-1zM4 28h1v1h-1zM14 28h1v1h-1zM3 29h2v1h-2zM14 29h2v1h-2zM4 30h2v1h-2zM13 30h2v1h-2zM5 31h1v1h-1zM13 31h1v1h-1zM3 32h1v1h-1zM6 32h1v1h-1zM12 32h1v1h-1zM15 32h1v1h-1zM6 33h1v1h-1zM12 33h1v1h-1zM8 34h1v1h-1zM10 34h1v1h-1zM8 35h1v1h-1zM10 35h1v1h-1z"/><path fill="#f6d746" d="M3 1h1v1h-1zM15 1h1v1h-1zM5 3h1v1h-1zM13 3h1v1h-1zM5 6h1v1h-1zM13 6h1v1h-1zM5 7h2v1h-2zM12 7h2v1h-2zM4 8h2v1h-2zM13 8h2v1h-2zM3 9h2v1h-2zM14 9h2v1h-2zM2 10h2v1h-2zM8 10h1v1h-1zM10 10h1v1h-1zM15 10h2v1h-2zM2 11h2v1h-2zM15 11h2v1h-2zM2 12h2v1h-2zM15 12h2v1h-2zM3 13h1v1h-1zM15 13h1v1h-1zM2 14h1v1h-1zM16 14h1v1h-1zM3 16h1v1h-1zM15 16h1v1h-1zM5 19h1v1h-1zM13 19h1v1h-1zM4 21h1v1h-1zM14 21h1v1h-1zM3 23h1v1h-1zM7 23h1v1h-1zM11 23h1v1h-1zM15 23h1v1h-1zM6 24h1v1h-1zM12 24h1v1h-1zM4 26h1v1h-1zM14 26h1v1h-1zM3 28h1v1h-1zM15 28h1v1h-1zM1 30h1v1h-1zM17 30h1v1h-1zM4 31h1v1h-1zM14 31h1v1h-1zM5 32h1v1h-1zM13 32h1v1h-1zM5 33h1v1h-1zM13 33h1v1h-1zM6 34h2v1h-2zM11 34h2v1h-2z"/><path fill="#f1ef75" d="M3 0h2v1h-2zM14 0h2v1h-2zM4 1h1v1h-1zM14 1h1v1h-1zM5 2h1v1h-1zM13 2h1v1h-1zM6 4h1v1h-1zM12 4h1v1h-1zM6 5h1v1h-1zM12 5h1v1h-1zM6 6h7v1h-7zM7 7h5v1h-5zM6 8h2v1h-2zM11 8h2v1h-2zM5 9h2v1h-2zM8 9h3v1h-3zM12 9h2v1h-2zM4 10h4v1h-4zM9 10h1v1h-1zM11 10h4v1h-4zM4 11h11v1h-11zM4 12h11v1h-11zM4 13h11v1h-11zM3 14h3v1h-3zM13 14h3v1h-3zM3 15h1v1h-1zM15 15h1v1h-1zM4 16h1v1h-1zM14 16h1v1h-1zM4 17h1v1h-1zM14 17h1v1h-1zM5 18h1v1h-1zM13 18h1v1h-1zM5 20h1v1h-1zM13 20h1v1h-1zM5 21h1v1h-1zM9 21h1v1h-1zM13 21h1v1h-1zM4 22h5v1h-5zM10 22h5v1h-5zM4 23h3v1h-3zM12 23h3v1h-3zM3 24h1v1h-1zM5 24h1v1h-1zM13 24h1v1h-1zM15 24h1v1h-1zM3 25h1v1h-1zM5 25h1v1h-1zM13 25h1v1h-1zM15 25h1v1h-1zM2 26h1v1h-1zM16 26h1v1h-1zM2 27h2v1h-2zM15 27h2v1h-2zM1 28h2v1h-2zM16 28h2v1h-2zM0 29h3v1h-3zM16 29h3v1h-3zM2 30h2v1h-2zM15 30h2v1h-2zM2 31h2v1h-2zM15 31h2v1h-2zM4 32h1v1h-1zM14 32h1v1h-1z"/><path fill="#fcffa4" d="M5 0h9v1h-9zM5 1h9v1h-9zM6 2h7v1h-7zM6 3h7v1h-7zM7 4h5v1h-5zM7 5h5v1h-5zM7 9h1v1h-1zM11 9h1v1h-1zM6 14h7v1h-7zM4 15h11v1h-11zM5 16h9v1h-9zM5 17h9v1h-9zM6 18h7v1h-7zM6 19h7v1h-7zM6 20h7v1h-7zM6 21h3v1h-3zM10 21h3v1h-3zM4 24h1v1h-1zM14 24h1v1h-1zM4 25h1v1h-1zM14 25h1v1h-1zM3 26h1v1h-1zM15 26h1v1h-1z"/></g>
</g>
<rect class="ax" x="56.40" y="320.60" width="87.63" height="82.60"/>
<rect class="ax" x="56.40" y="407.95" width="87.63" height="174.20"/>
<path class="tk" d="M56.40 579.86h-5.6M56.40 497.34h-5.6M56.40 414.83h-5.6M56.40 359.61h-5.6M58.71 582.15v5.6M58.71 403.20v-5.2M100.21 582.15v5.6M100.21 403.20v-5.2M141.72 582.15v5.6M141.72 403.20v-5.2"/>
<text class="" x="60.3" y="337.2" font-size="16">(<tspan class="b" dx="0.5" font-size="15.5">b</tspan><tspan dx="0.5">)</tspan></text>
<g shape-rendering="crispEdges" filter="url(#bl)">
<g transform="translate(172.70,320.60) scale(4.6120,4.5889)"><path fill="#07051b" d="M0 8h1v1h-1zM18 8h1v1h-1z"/><path fill="#160b39" d="M0 6h1v1h-1zM18 6h1v1h-1zM0 7h1v1h-1zM18 7h1v1h-1zM0 9h1v1h-1zM18 9h1v1h-1z"/><path fill="#2b0b57" d="M0 5h1v1h-1zM18 5h1v1h-1zM1 6h1v1h-1zM17 6h1v1h-1zM1 7h1v1h-1zM17 7h1v1h-1zM1 8h1v1h-1zM17 8h1v1h-1z"/><path fill="#420a68" d="M0 4h1v1h-1zM18 4h1v1h-1zM1 5h1v1h-1zM17 5h1v1h-1zM1 9h1v1h-1zM17 9h1v1h-1zM0 10h1v1h-1zM18 10h1v1h-1z"/><path fill="#57106e" d="M0 3h1v1h-1zM18 3h1v1h-1zM1 4h1v1h-1zM17 4h1v1h-1zM0 11h1v1h-1zM18 11h1v1h-1z"/><path fill="#6a176e" d="M0 0h1v1h-1zM18 0h1v1h-1zM0 1h1v1h-1zM18 1h1v1h-1zM0 2h1v1h-1zM18 2h1v1h-1zM1 3h1v1h-1zM17 3h1v1h-1zM2 7h1v1h-1zM16 7h1v1h-1zM2 8h1v1h-1zM16 8h1v1h-1zM1 10h1v1h-1zM17 10h1v1h-1zM0 12h1v1h-1zM18 12h1v1h-1zM0 13h1v1h-1zM18 13h1v1h-1zM0 14h1v1h-1zM18 14h1v1h-1zM0 15h1v1h-1zM18 15h1v1h-1zM0 16h1v1h-1zM18 16h1v1h-1zM0 17h1v1h-1zM18 17h1v1h-1z"/><path fill="#7f1e6c" d="M1 1h1v1h-1zM17 1h1v1h-1zM1 2h1v1h-1zM17 2h1v1h-1zM2 6h1v1h-1zM16 6h1v1h-1zM2 9h1v1h-1zM16 9h1v1h-1z"/><path fill="#932667" d="M1 0h1v1h-1zM17 0h1v1h-1zM2 5h1v1h-1zM16 5h1v1h-1zM1 11h1v1h-1zM17 11h1v1h-1zM1 12h1v1h-1zM17 12h1v1h-1zM1 16h1v1h-1zM17 16h1v1h-1zM1 17h1v1h-1zM17 17h1v1h-1z"/><path fill="#a82e5f" d="M2 3h1v1h-1zM16 3h1v1h-1zM2 4h1v1h-1zM16 4h1v1h-1zM3 7h1v1h-1zM15 7h1v1h-1zM3 8h1v1h-1zM15 8h1v1h-1zM2 10h1v1h-1zM16 10h1v1h-1zM1 13h1v1h-1zM17 13h1v1h-1zM1 14h1v1h-1zM17 14h1v1h-1zM1 15h1v1h-1zM17 15h1v1h-1z"/><path fill="#bc3754" d="M2 1h1v1h-1zM16 1h1v1h-1zM2 2h1v1h-1zM16 2h1v1h-1zM3 5h1v1h-1zM15 5h1v1h-1zM3 6h1v1h-1zM15 6h1v1h-1zM3 9h1v1h-1zM15 9h1v1h-1zM2 11h1v1h-1zM16 11h1v1h-1z"/><path fill="#cc4248" d="M2 0h1v1h-1zM16 0h1v1h-1zM3 3h1v1h-1zM15 3h1v1h-1zM3 4h1v1h-1zM15 4h1v1h-1zM4 6h1v1h-1zM14 6h1v1h-1zM4 7h1v1h-1zM14 7h1v1h-1zM4 8h1v1h-1zM14 8h1v1h-1zM2 12h1v1h-1zM16 12h1v1h-1zM2 17h1v1h-1zM16 17h1v1h-1z"/><path fill="#dd513a" d="M3 0h1v1h-1zM15 0h1v1h-1zM3 1h2v1h-2zM14 1h2v1h-2zM3 2h2v1h-2zM14 2h2v1h-2zM4 3h1v1h-1zM14 3h1v1h-1zM4 4h1v1h-1zM14 4h1v1h-1zM4 5h1v1h-1zM14 5h1v1h-1zM5 8h1v1h-1zM13 8h1v1h-1zM4 9h1v1h-1zM14 9h1v1h-1zM3 10h1v1h-1zM15 10h1v1h-1zM3 11h1v1h-1zM15 11h1v1h-1zM2 13h1v1h-1zM16 13h1v1h-1zM2 14h1v1h-1zM16 14h1v1h-1zM2 15h1v1h-1zM16 15h1v1h-1zM2 16h1v1h-1zM16 16h1v1h-1zM3 17h1v1h-1zM15 17h1v1h-1z"/><path fill="#ea632a" d="M4 0h1v1h-1zM14 0h1v1h-1zM5 2h1v1h-1zM13 2h1v1h-1zM5 3h1v1h-1zM13 3h1v1h-1zM5 4h1v1h-1zM13 4h1v1h-1zM5 5h1v1h-1zM13 5h1v1h-1zM5 6h1v1h-1zM13 6h1v1h-1zM5 7h1v1h-1zM13 7h1v1h-1zM6 8h1v1h-1zM12 8h1v1h-1zM5 9h1v1h-1zM13 9h1v1h-1zM4 10h2v1h-2zM13 10h2v1h-2zM4 11h1v1h-1zM14 11h1v1h-1zM3 12h1v1h-1zM15 12h1v1h-1zM3 13h1v1h-1zM15 13h1v1h-1zM3 14h1v1h-1zM15 14h1v1h-1zM4 15h1v1h-1zM14 15h1v1h-1zM3 16h3v1h-3zM13 16h3v1h-3zM4 17h2v1h-2zM13 17h2v1h-2z"/><path fill="#f37819" d="M5 0h1v1h-1zM13 0h1v1h-1zM5 1h1v1h-1zM13 1h1v1h-1zM6 3h1v1h-1zM12 3h1v1h-1zM6 4h1v1h-1zM12 4h1v1h-1zM6 5h1v1h-1zM12 5h1v1h-1zM6 7h1v1h-1zM12 7h1v1h-1zM6 9h1v1h-1zM12 9h1v1h-1zM6 10h1v1h-1zM12 10h1v1h-1zM5 11h2v1h-2zM12 11h2v1h-2zM4 12h2v1h-2zM13 12h2v1h-2zM4 13h1v1h-1zM14 13h1v1h-1zM4 14h2v1h-2zM13 14h2v1h-2zM3 15h1v1h-1zM5 15h2v1h-2zM12 15h2v1h-2zM15 15h1v1h-1zM6 16h1v1h-1zM12 16h1v1h-1zM6 17h1v1h-1zM12 17h1v1h-1z"/><path fill="#f98e09" d="M6 0h1v1h-1zM12 0h1v1h-1zM6 1h1v1h-1zM12 1h1v1h-1zM6 2h1v1h-1zM12 2h1v1h-1zM7 4h1v1h-1zM11 4h1v1h-1zM6 6h1v1h-1zM12 6h1v1h-1zM7 8h1v1h-1zM11 8h1v1h-1zM7 9h1v1h-1zM11 9h1v1h-1zM6 12h1v1h-1zM12 12h1v1h-1zM5 13h2v1h-2zM12 13h2v1h-2zM6 14h1v1h-1zM12 14h1v1h-1z"/><path fill="#fca50a" d="M7 3h2v1h-2zM10 3h2v1h-2zM8 4h1v1h-1zM10 4h1v1h-1zM9 9h1v1h-1zM7 10h1v1h-1zM11 10h1v1h-1zM7 11h1v1h-1zM11 11h1v1h-1zM7 12h1v1h-1zM11 12h1v1h-1zM7 13h1v1h-1zM11 13h1v1h-1zM7 14h1v1h-1zM11 14h1v1h-1zM7 15h1v1h-1zM11 15h1v1h-1zM7 16h1v1h-1zM11 16h1v1h-1zM7 17h1v1h-1zM11 17h1v1h-1z"/><path fill="#fbbe23" d="M7 1h1v1h-1zM11 1h1v1h-1zM7 5h1v1h-1zM11 5h1v1h-1zM8 9h1v1h-1zM10 9h1v1h-1z"/><path fill="#f6d746" d="M7 0h1v1h-1zM11 0h1v1h-1zM7 2h1v1h-1zM11 2h1v1h-1zM9 4h1v1h-1zM8 5h1v1h-1zM10 5h1v1h-1zM7 6h1v1h-1zM11 6h1v1h-1zM7 7h1v1h-1zM11 7h1v1h-1zM8 10h3v1h-3z"/><path fill="#f1ef75" d="M9 3h1v1h-1zM8 8h3v1h-3zM9 12h1v1h-1zM9 13h1v1h-1zM9 14h1v1h-1z"/><path fill="#fcffa4" d="M8 0h3v1h-3zM8 1h3v1h-3zM8 2h3v1h-3zM9 5h1v1h-1zM8 6h3v1h-3zM8 7h3v1h-3zM8 11h3v1h-3zM8 12h1v1h-1zM10 12h1v1h-1zM8 13h1v1h-1zM10 13h1v1h-1zM8 14h1v1h-1zM10 14h1v1h-1zM8 15h3v1h-3zM8 16h3v1h-3zM8 17h3v1h-3z"/></g>
<g transform="translate(172.70,407.95) scale(4.6120,4.5842)"><path fill="#000004" d="M0 34h3v1h-3zM16 34h3v1h-3zM0 35h5v1h-5zM14 35h5v1h-5zM0 36h6v1h-6zM13 36h6v1h-6zM0 37h19v1h-19z"/><path fill="#07051b" d="M0 5h1v1h-1zM18 5h1v1h-1z"/><path fill="#160b39" d="M0 3h1v1h-1zM18 3h1v1h-1zM0 4h1v1h-1zM18 4h1v1h-1zM0 6h1v1h-1zM18 6h1v1h-1zM0 33h1v1h-1zM18 33h1v1h-1z"/><path fill="#2b0b57" d="M1 4h1v1h-1zM17 4h1v1h-1zM1 5h1v1h-1zM17 5h1v1h-1zM0 7h1v1h-1zM18 7h1v1h-1zM0 8h1v1h-1zM18 8h1v1h-1zM0 19h1v1h-1zM18 19h1v1h-1zM0 23h1v1h-1zM18 23h1v1h-1zM0 24h1v1h-1zM18 24h1v1h-1zM0 25h1v1h-1zM18 25h1v1h-1zM6 36h1v1h-1zM12 36h1v1h-1z"/><path fill="#420a68" d="M0 2h1v1h-1zM18 2h1v1h-1zM1 3h1v1h-1zM17 3h1v1h-1zM1 6h1v1h-1zM17 6h1v1h-1zM1 7h1v1h-1zM17 7h1v1h-1zM0 9h1v1h-1zM18 9h1v1h-1zM0 13h1v1h-1zM18 13h1v1h-1zM0 14h1v1h-1zM18 14h1v1h-1zM0 15h1v1h-1zM18 15h1v1h-1zM0 16h1v1h-1zM18 16h1v1h-1zM0 17h1v1h-1zM18 17h1v1h-1zM0 18h1v1h-1zM18 18h1v1h-1zM0 26h1v1h-1zM18 26h1v1h-1zM0 27h1v1h-1zM18 27h1v1h-1zM0 28h1v1h-1zM18 28h1v1h-1zM0 29h1v1h-1zM18 29h1v1h-1zM1 33h1v1h-1zM17 33h1v1h-1z"/><path fill="#57106e" d="M0 1h1v1h-1zM18 1h1v1h-1zM1 2h1v1h-1zM17 2h1v1h-1zM2 4h1v1h-1zM16 4h1v1h-1zM2 5h1v1h-1zM16 5h1v1h-1zM2 6h1v1h-1zM16 6h1v1h-1zM2 7h1v1h-1zM16 7h1v1h-1zM1 8h1v1h-1zM17 8h1v1h-1zM0 12h1v1h-1zM18 12h1v1h-1zM1 17h1v1h-1zM17 17h1v1h-1zM1 18h1v1h-1zM17 18h1v1h-1zM0 22h1v1h-1zM18 22h1v1h-1zM1 23h1v1h-1zM17 23h1v1h-1zM1 24h1v1h-1zM17 24h1v1h-1zM3 34h1v1h-1zM15 34h1v1h-1z"/><path fill="#6a176e" d="M0 0h1v1h-1zM18 0h1v1h-1zM1 1h1v1h-1zM17 1h1v1h-1zM2 3h1v1h-1zM16 3h1v1h-1zM3 5h1v1h-1zM15 5h1v1h-1zM3 6h1v1h-1zM15 6h1v1h-1zM3 7h1v1h-1zM15 7h1v1h-1zM2 8h1v1h-1zM16 8h1v1h-1zM1 9h1v1h-1zM17 9h1v1h-1zM0 10h1v1h-1zM18 10h1v1h-1zM1 14h1v1h-1zM17 14h1v1h-1zM1 15h1v1h-1zM17 15h1v1h-1zM1 16h1v1h-1zM17 16h1v1h-1zM0 20h1v1h-1zM18 20h1v1h-1zM0 21h1v1h-1zM18 21h1v1h-1zM1 25h1v1h-1zM17 25h1v1h-1zM0 30h1v1h-1zM18 30h1v1h-1zM5 35h1v1h-1zM13 35h1v1h-1z"/><path fill="#7f1e6c" d="M1 0h1v1h-1zM17 0h1v1h-1zM2 2h1v1h-1zM16 2h1v1h-1zM3 4h1v1h-1zM15 4h1v1h-1zM4 6h1v1h-1zM14 6h1v1h-1zM1 13h1v1h-1zM17 13h1v1h-1zM1 19h1v1h-1zM17 19h1v1h-1zM1 22h1v1h-1zM17 22h1v1h-1zM1 26h1v1h-1zM17 26h1v1h-1zM0 32h1v1h-1zM18 32h1v1h-1z"/><path fill="#932667" d="M3 3h1v1h-1zM15 3h1v1h-1zM4 5h1v1h-1zM14 5h1v1h-1zM4 7h1v1h-1zM14 7h1v1h-1zM3 8h1v1h-1zM15 8h1v1h-1zM2 9h1v1h-1zM16 9h1v1h-1zM1 10h1v1h-1zM17 10h1v1h-1zM0 11h1v1h-1zM18 11h1v1h-1zM1 12h1v1h-1zM17 12h1v1h-1zM2 17h1v1h-1zM16 17h1v1h-1zM2 18h1v1h-1zM16 18h1v1h-1zM1 20h1v1h-1zM17 20h1v1h-1zM1 21h1v1h-1zM17 21h1v1h-1zM1 27h1v1h-1zM17 27h1v1h-1z"/><path fill="#a82e5f" d="M2 1h1v1h-1zM16 1h1v1h-1zM4 4h1v1h-1zM14 4h1v1h-1zM5 6h1v1h-1zM13 6h1v1h-1zM1 11h1v1h-1zM17 11h1v1h-1zM2 15h1v1h-1zM16 15h1v1h-1zM2 16h1v1h-1zM16 16h1v1h-1zM2 23h1v1h-1zM16 23h1v1h-1zM2 24h1v1h-1zM16 24h1v1h-1zM1 28h1v1h-1zM17 28h1v1h-1zM2 33h1v1h-1zM16 33h1v1h-1zM7 36h2v1h-2zM10 36h2v1h-2z"/><path fill="#bc3754" d="M2 0h1v1h-1zM16 0h1v1h-1zM3 2h1v1h-1zM15 2h1v1h-1zM5 5h1v1h-1zM13 5h1v1h-1zM5 7h1v1h-1zM13 7h1v1h-1zM4 8h1v1h-1zM14 8h1v1h-1zM3 9h1v1h-1zM15 9h1v1h-1zM2 10h1v1h-1zM16 10h1v1h-1zM2 13h1v1h-1zM16 13h1v1h-1zM2 14h1v1h-1zM16 14h1v1h-1zM3 16h1v1h-1zM15 16h1v1h-1zM3 17h1v1h-1zM15 17h1v1h-1zM2 25h1v1h-1zM16 25h1v1h-1z"/><path fill="#cc4248" d="M3 1h1v1h-1zM15 1h1v1h-1zM4 3h1v1h-1zM14 3h1v1h-1zM3 10h1v1h-1zM15 10h1v1h-1zM2 11h1v1h-1zM16 11h1v1h-1zM2 12h1v1h-1zM16 12h1v1h-1zM3 14h1v1h-1zM15 14h1v1h-1zM3 15h1v1h-1zM15 15h1v1h-1zM3 18h1v1h-1zM15 18h1v1h-1zM2 19h1v1h-1zM16 19h1v1h-1zM2 22h1v1h-1zM16 22h1v1h-1zM2 26h1v1h-1zM16 26h1v1h-1zM1 29h1v1h-1zM17 29h1v1h-1zM0 31h1v1h-1zM18 31h1v1h-1z"/><path fill="#dd513a" d="M3 0h1v1h-1zM15 0h1v1h-1zM4 2h1v1h-1zM14 2h1v1h-1zM5 3h1v1h-1zM13 3h1v1h-1zM5 4h1v1h-1zM13 4h1v1h-1zM6 6h1v1h-1zM12 6h1v1h-1zM6 7h1v1h-1zM12 7h1v1h-1zM5 8h1v1h-1zM13 8h1v1h-1zM4 9h1v1h-1zM14 9h1v1h-1zM4 10h1v1h-1zM14 10h1v1h-1zM3 11h2v1h-2zM14 11h2v1h-2zM3 12h1v1h-1zM15 12h1v1h-1zM3 13h1v1h-1zM15 13h1v1h-1zM4 14h1v1h-1zM14 14h1v1h-1zM4 15h1v1h-1zM14 15h1v1h-1zM4 16h1v1h-1zM14 16h1v1h-1zM2 20h1v1h-1zM16 20h1v1h-1zM2 21h1v1h-1zM16 21h1v1h-1zM3 24h1v1h-1zM15 24h1v1h-1zM3 25h2v1h-2zM14 25h2v1h-2zM3 26h3v1h-3zM13 26h3v1h-3zM2 27h3v1h-3zM14 27h3v1h-3zM2 28h1v1h-1zM16 28h1v1h-1zM1 32h1v1h-1zM17 32h1v1h-1zM4 34h1v1h-1zM14 34h1v1h-1z"/><path fill="#ea632a" d="M4 0h1v1h-1zM14 0h1v1h-1zM4 1h1v1h-1zM14 1h1v1h-1zM5 2h1v1h-1zM13 2h1v1h-1zM6 5h1v1h-1zM12 5h1v1h-1zM7 6h2v1h-2zM10 6h2v1h-2zM7 7h2v1h-2zM10 7h2v1h-2zM5 9h1v1h-1zM13 9h1v1h-1zM5 10h1v1h-1zM13 10h1v1h-1zM5 11h1v1h-1zM13 11h1v1h-1zM4 12h2v1h-2zM13 12h2v1h-2zM4 13h2v1h-2zM13 13h2v1h-2zM5 14h1v1h-1zM13 14h1v1h-1zM5 15h1v1h-1zM13 15h1v1h-1zM5 16h1v1h-1zM13 16h1v1h-1zM4 17h1v1h-1zM14 17h1v1h-1zM4 18h1v1h-1zM14 18h1v1h-1zM3 23h1v1h-1zM15 23h1v1h-1zM4 24h1v1h-1zM14 24h1v1h-1zM5 25h2v1h-2zM12 25h2v1h-2zM6 26h1v1h-1zM12 26h1v1h-1zM5 27h1v1h-1zM13 27h1v1h-1zM3 28h2v1h-2zM14 28h2v1h-2zM2 29h1v1h-1zM16 29h1v1h-1zM1 30h1v1h-1zM17 30h1v1h-1zM1 31h1v1h-1zM17 31h1v1h-1zM2 32h1v1h-1zM16 32h1v1h-1zM3 33h1v1h-1zM15 33h1v1h-1z"/><path fill="#f37819" d="M5 0h2v1h-2zM12 0h2v1h-2zM5 1h2v1h-2zM12 1h2v1h-2zM6 2h1v1h-1zM12 2h1v1h-1zM6 3h1v1h-1zM12 3h1v1h-1zM6 4h1v1h-1zM12 4h1v1h-1zM6 8h1v1h-1zM12 8h1v1h-1zM6 11h1v1h-1zM12 11h1v1h-1zM6 12h1v1h-1zM12 12h1v1h-1zM6 13h1v1h-1zM12 13h1v1h-1zM6 14h1v1h-1zM12 14h1v1h-1zM6 15h1v1h-1zM12 15h1v1h-1zM6 16h1v1h-1zM12 16h1v1h-1zM5 17h2v1h-2zM12 17h2v1h-2zM5 18h2v1h-2zM12 18h2v1h-2zM3 19h1v1h-1zM15 19h1v1h-1zM3 22h1v1h-1zM15 22h1v1h-1zM6 23h1v1h-1zM12 23h1v1h-1zM5 24h2v1h-2zM12 24h2v1h-2zM6 27h1v1h-1zM12 27h1v1h-1zM5 28h1v1h-1zM13 28h1v1h-1zM3 29h2v1h-2zM14 29h2v1h-2zM2 30h2v1h-2zM15 30h2v1h-2zM2 31h1v1h-1zM5 31h2v1h-2zM12 31h2v1h-2zM16 31h1v1h-1zM3 32h2v1h-2zM14 32h2v1h-2zM4 33h1v1h-1zM14 33h1v1h-1zM5 34h1v1h-1zM13 34h1v1h-1zM6 35h1v1h-1zM12 35h1v1h-1z"/><path fill="#f98e09" d="M7 0h1v1h-1zM11 0h1v1h-1zM7 1h1v1h-1zM11 1h1v1h-1zM7 5h1v1h-1zM11 5h1v1h-1zM7 8h1v1h-1zM11 8h1v1h-1zM6 9h1v1h-1zM12 9h1v1h-1zM6 10h1v1h-1zM12 10h1v1h-1zM7 12h1v1h-1zM11 12h1v1h-1zM7 13h1v1h-1zM11 13h1v1h-1zM4 19h3v1h-3zM12 19h3v1h-3zM6 20h1v1h-1zM12 20h1v1h-1zM3 21h4v1h-4zM12 21h4v1h-4zM4 22h3v1h-3zM12 22h3v1h-3zM4 23h2v1h-2zM13 23h2v1h-2zM7 25h1v1h-1zM11 25h1v1h-1zM6 28h1v1h-1zM12 28h1v1h-1zM5 29h2v1h-2zM12 29h2v1h-2zM4 30h3v1h-3zM12 30h3v1h-3zM3 31h2v1h-2zM14 31h2v1h-2zM5 32h2v1h-2zM12 32h2v1h-2zM5 33h1v1h-1zM13 33h1v1h-1zM6 34h1v1h-1zM12 34h1v1h-1z"/><path fill="#fca50a" d="M8 1h1v1h-1zM10 1h1v1h-1zM7 2h1v1h-1zM11 2h1v1h-1zM9 6h1v1h-1zM9 7h1v1h-1zM7 9h1v1h-1zM11 9h1v1h-1zM7 10h1v1h-1zM11 10h1v1h-1zM7 11h1v1h-1zM11 11h1v1h-1zM7 14h1v1h-1zM11 14h1v1h-1zM7 15h1v1h-1zM11 15h1v1h-1zM7 16h1v1h-1zM11 16h1v1h-1zM7 17h1v1h-1zM11 17h1v1h-1zM7 18h1v1h-1zM11 18h1v1h-1zM7 19h1v1h-1zM11 19h1v1h-1zM3 20h3v1h-3zM7 20h1v1h-1zM11 20h1v1h-1zM13 20h3v1h-3zM7 21h1v1h-1zM11 21h1v1h-1zM7 22h1v1h-1zM11 22h1v1h-1zM7 23h1v1h-1zM11 23h1v1h-1zM7 24h1v1h-1zM11 24h1v1h-1zM7 26h1v1h-1zM11 26h1v1h-1zM7 27h1v1h-1zM11 27h1v1h-1zM7 30h1v1h-1zM11 30h1v1h-1zM7 31h1v1h-1zM11 31h1v1h-1zM7 32h1v1h-1zM11 32h1v1h-1zM6 33h1v1h-1zM12 33h1v1h-1zM9 36h1v1h-1z"/><path fill="#fbbe23" d="M8 0h1v1h-1zM10 0h1v1h-1zM8 2h1v1h-1zM10 2h1v1h-1zM7 3h1v1h-1zM11 3h1v1h-1zM8 8h1v1h-1zM10 8h1v1h-1zM9 25h1v1h-1zM7 28h1v1h-1zM11 28h1v1h-1zM7 29h1v1h-1zM11 29h1v1h-1zM9 31h1v1h-1z"/><path fill="#f6d746" d="M9 1h1v1h-1zM9 2h1v1h-1zM7 4h1v1h-1zM11 4h1v1h-1zM8 5h3v1h-3zM9 8h1v1h-1zM8 12h3v1h-3zM8 13h1v1h-1zM10 13h1v1h-1zM9 16h1v1h-1zM9 17h1v1h-1zM8 25h1v1h-1zM10 25h1v1h-1zM8 31h1v1h-1zM10 31h1v1h-1zM9 32h1v1h-1zM7 33h1v1h-1zM11 33h1v1h-1z"/><path fill="#f1ef75" d="M9 0h1v1h-1zM8 3h1v1h-1zM10 3h1v1h-1zM8 9h1v1h-1zM10 9h1v1h-1zM8 11h3v1h-3zM9 13h1v1h-1zM8 14h1v1h-1zM10 14h1v1h-1zM9 15h1v1h-1zM8 16h1v1h-1zM10 16h1v1h-1zM8 17h1v1h-1zM10 17h1v1h-1zM9 18h1v1h-1zM8 26h1v1h-1zM10 26h1v1h-1zM8 30h3v1h-3zM8 32h1v1h-1zM10 32h1v1h-1zM8 33h1v1h-1zM10 33h1v1h-1zM7 34h1v1h-1zM9 34h1v1h-1zM11 34h1v1h-1zM7 35h1v1h-1zM11 35h1v1h-1z"/><path fill="#fcffa4" d="M9 3h1v1h-1zM8 4h3v1h-3zM9 9h1v1h-1zM8 10h3v1h-3zM9 14h1v1h-1zM8 15h1v1h-1zM10 15h1v1h-1zM8 18h1v1h-1zM10 18h1v1h-1zM8 19h3v1h-3zM8 20h3v1h-3zM8 21h3v1h-3zM8 22h3v1h-3zM8 23h3v1h-3zM8 24h3v1h-3zM9 26h1v1h-1zM8 27h3v1h-3zM8 28h3v1h-3zM8 29h3v1h-3zM9 33h1v1h-1zM8 34h1v1h-1zM10 34h1v1h-1zM8 35h3v1h-3z"/></g>
</g>
<rect class="ax" x="172.70" y="320.60" width="87.63" height="82.60"/>
<rect class="ax" x="172.70" y="407.95" width="87.63" height="174.20"/>
<path class="tk" d="M172.70 579.86h-5.6M172.70 497.34h-5.6M172.70 414.83h-5.6M172.70 359.61h-5.6M175.01 582.15v5.6M175.01 403.20v-5.2M216.51 582.15v5.6M216.51 403.20v-5.2M258.02 582.15v5.6M258.02 403.20v-5.2"/>
<text class="w" x="176.6" y="337.2" font-size="16">(<tspan class="b" dx="0.5" font-size="15.5">d</tspan><tspan dx="0.5">)</tspan></text>
<g shape-rendering="crispEdges" filter="url(#bl)">
<g transform="translate(289.20,320.60) scale(4.6120,4.5889)"><path fill="#9d2964" d="M0 9h1v1h-1zM18 9h1v1h-1zM0 10h1v1h-1zM18 10h1v1h-1z"/><path fill="#b1325a" d="M0 8h1v1h-1zM18 8h1v1h-1zM0 11h1v1h-1zM18 11h1v1h-1z"/><path fill="#c43c4e" d="M7 1h1v1h-1zM11 1h1v1h-1zM0 7h1v1h-1zM18 7h1v1h-1zM9 8h1v1h-1zM0 12h1v1h-1zM18 12h1v1h-1z"/><path fill="#d54a41" d="M0 0h1v1h-1zM18 0h1v1h-1zM0 1h1v1h-1zM18 1h1v1h-1zM0 2h1v1h-1zM18 2h1v1h-1zM0 3h1v1h-1zM7 3h1v1h-1zM11 3h1v1h-1zM18 3h1v1h-1zM0 4h1v1h-1zM7 4h2v1h-2zM10 4h2v1h-2zM18 4h1v1h-1zM0 5h1v1h-1zM18 5h1v1h-1zM0 6h1v1h-1zM18 6h1v1h-1zM5 7h1v1h-1zM13 7h1v1h-1zM5 8h1v1h-1zM13 8h1v1h-1zM8 9h1v1h-1zM10 9h1v1h-1zM6 10h1v1h-1zM12 10h1v1h-1zM5 11h2v1h-2zM8 11h1v1h-1zM10 11h1v1h-1zM12 11h2v1h-2zM0 13h1v1h-1zM7 13h1v1h-1zM11 13h1v1h-1zM18 13h1v1h-1zM0 14h1v1h-1zM18 14h1v1h-1zM0 15h1v1h-1zM7 15h1v1h-1zM11 15h1v1h-1zM18 15h1v1h-1zM0 16h1v1h-1zM18 16h1v1h-1zM0 17h2v1h-2zM17 17h2v1h-2z"/><path fill="#e45a31" d="M1 0h1v1h-1zM6 0h1v1h-1zM8 0h1v1h-1zM10 0h1v1h-1zM12 0h1v1h-1zM17 0h1v1h-1zM1 1h1v1h-1zM6 1h1v1h-1zM8 1h1v1h-1zM10 1h1v1h-1zM12 1h1v1h-1zM17 1h1v1h-1zM1 2h1v1h-1zM6 2h2v1h-2zM11 2h2v1h-2zM17 2h1v1h-1zM1 3h1v1h-1zM6 3h1v1h-1zM8 3h1v1h-1zM10 3h1v1h-1zM12 3h1v1h-1zM17 3h1v1h-1zM1 4h1v1h-1zM6 4h1v1h-1zM12 4h1v1h-1zM17 4h1v1h-1zM7 5h1v1h-1zM11 5h1v1h-1zM1 6h1v1h-1zM5 6h9v1h-9zM17 6h1v1h-1zM1 7h1v1h-1zM3 7h1v1h-1zM6 7h2v1h-2zM11 7h2v1h-2zM15 7h1v1h-1zM17 7h1v1h-1zM6 8h1v1h-1zM8 8h1v1h-1zM10 8h1v1h-1zM12 8h1v1h-1zM1 9h1v1h-1zM3 9h1v1h-1zM5 9h2v1h-2zM9 9h1v1h-1zM12 9h2v1h-2zM15 9h1v1h-1zM17 9h1v1h-1zM1 10h1v1h-1zM5 10h1v1h-1zM7 10h1v1h-1zM9 10h1v1h-1zM11 10h1v1h-1zM13 10h1v1h-1zM17 10h1v1h-1zM7 11h1v1h-1zM11 11h1v1h-1zM1 12h1v1h-1zM6 12h3v1h-3zM10 12h3v1h-3zM17 12h1v1h-1zM1 13h1v1h-1zM6 13h1v1h-1zM12 13h1v1h-1zM17 13h1v1h-1zM7 14h2v1h-2zM10 14h2v1h-2zM1 15h1v1h-1zM6 15h1v1h-1zM8 15h1v1h-1zM10 15h1v1h-1zM12 15h1v1h-1zM17 15h1v1h-1zM1 16h1v1h-1zM6 16h3v1h-3zM10 16h3v1h-3zM17 16h1v1h-1zM2 17h1v1h-1zM7 17h2v1h-2zM10 17h2v1h-2zM16 17h1v1h-1z"/><path fill="#ef6c23" d="M2 0h4v1h-4zM7 0h1v1h-1zM11 0h1v1h-1zM13 0h4v1h-4zM2 1h4v1h-4zM9 1h1v1h-1zM13 1h4v1h-4zM2 2h4v1h-4zM8 2h1v1h-1zM10 2h1v1h-1zM13 2h4v1h-4zM2 3h4v1h-4zM13 3h4v1h-4zM2 4h4v1h-4zM13 4h4v1h-4zM1 5h6v1h-6zM8 5h1v1h-1zM10 5h1v1h-1zM12 5h6v1h-6zM2 6h2v1h-2zM15 6h2v1h-2zM2 7h1v1h-1zM8 7h3v1h-3zM16 7h1v1h-1zM1 8h4v1h-4zM7 8h1v1h-1zM11 8h1v1h-1zM14 8h4v1h-4zM2 9h1v1h-1zM4 9h1v1h-1zM7 9h1v1h-1zM11 9h1v1h-1zM14 9h1v1h-1zM16 9h1v1h-1zM2 10h1v1h-1zM4 10h1v1h-1zM8 10h1v1h-1zM10 10h1v1h-1zM14 10h1v1h-1zM16 10h1v1h-1zM1 11h2v1h-2zM4 11h1v1h-1zM9 11h1v1h-1zM14 11h1v1h-1zM16 11h2v1h-2zM2 12h1v1h-1zM4 12h2v1h-2zM9 12h1v1h-1zM13 12h2v1h-2zM16 12h1v1h-1zM2 13h1v1h-1zM4 13h2v1h-2zM8 13h3v1h-3zM13 13h2v1h-2zM16 13h1v1h-1zM1 14h2v1h-2zM4 14h3v1h-3zM9 14h1v1h-1zM12 14h3v1h-3zM16 14h2v1h-2zM2 15h4v1h-4zM9 15h1v1h-1zM13 15h4v1h-4zM2 16h4v1h-4zM9 16h1v1h-1zM13 16h4v1h-4zM3 17h2v1h-2zM6 17h1v1h-1zM9 17h1v1h-1zM12 17h1v1h-1zM14 17h2v1h-2z"/><path fill="#f78212" d="M9 0h1v1h-1zM9 5h1v1h-1zM4 6h1v1h-1zM14 6h1v1h-1zM4 7h1v1h-1zM14 7h1v1h-1zM3 10h1v1h-1zM15 10h1v1h-1zM3 14h1v1h-1zM15 14h1v1h-1zM5 17h1v1h-1zM13 17h1v1h-1z"/><path fill="#fb9906" d="M9 2h1v1h-1zM9 3h1v1h-1zM9 4h1v1h-1zM3 11h1v1h-1zM15 11h1v1h-1zM3 12h1v1h-1zM15 12h1v1h-1zM3 13h1v1h-1zM15 13h1v1h-1z"/></g>
<g transform="translate(289.20,407.95) scale(4.6120,4.5842)"><path fill="#000004" d="M0 33h1v1h-1zM18 33h1v1h-1zM1 34h1v1h-1zM17 34h1v1h-1zM8 36h3v1h-3zM0 37h19v1h-19z"/><path fill="#07051b" d="M0 30h1v1h-1zM2 30h1v1h-1zM4 30h1v1h-1zM14 30h1v1h-1zM16 30h1v1h-1zM18 30h1v1h-1zM1 33h2v1h-2zM16 33h2v1h-2zM0 34h1v1h-1zM2 34h2v1h-2zM5 34h1v1h-1zM13 34h1v1h-1zM15 34h2v1h-2zM18 34h1v1h-1zM0 35h1v1h-1zM6 35h1v1h-1zM12 35h1v1h-1zM18 35h1v1h-1z"/><path fill="#160b39" d="M1 30h1v1h-1zM17 30h1v1h-1zM1 32h1v1h-1zM17 32h1v1h-1zM3 33h2v1h-2zM6 33h1v1h-1zM12 33h1v1h-1zM14 33h2v1h-2zM4 34h1v1h-1zM14 34h1v1h-1zM1 35h1v1h-1zM7 35h1v1h-1zM11 35h1v1h-1zM17 35h1v1h-1z"/><path fill="#2b0b57" d="M7 27h1v1h-1zM11 27h1v1h-1zM0 28h1v1h-1zM18 28h1v1h-1zM0 32h1v1h-1zM2 32h2v1h-2zM5 32h1v1h-1zM13 32h1v1h-1zM15 32h2v1h-2zM18 32h1v1h-1zM5 33h1v1h-1zM13 33h1v1h-1zM2 35h3v1h-3zM14 35h3v1h-3z"/><path fill="#420a68" d="M0 26h1v1h-1zM18 26h1v1h-1zM0 27h2v1h-2zM17 27h2v1h-2zM2 28h1v1h-1zM16 28h1v1h-1zM8 29h1v1h-1zM10 29h1v1h-1zM4 32h1v1h-1zM14 32h1v1h-1zM5 35h1v1h-1zM13 35h1v1h-1z"/><path fill="#57106e" d="M9 20h1v1h-1zM8 23h1v1h-1zM10 23h1v1h-1zM9 27h1v1h-1zM1 28h1v1h-1zM17 28h1v1h-1zM3 29h1v1h-1zM15 29h1v1h-1zM3 30h1v1h-1zM5 30h1v1h-1zM8 30h1v1h-1zM10 30h1v1h-1zM13 30h1v1h-1zM15 30h1v1h-1z"/><path fill="#6a176e" d="M0 4h1v1h-1zM18 4h1v1h-1zM2 16h1v1h-1zM16 16h1v1h-1zM8 22h1v1h-1zM10 22h1v1h-1zM0 25h1v1h-1zM18 25h1v1h-1zM0 29h1v1h-1zM18 29h1v1h-1zM9 31h1v1h-1z"/><path fill="#7f1e6c" d="M0 2h1v1h-1zM18 2h1v1h-1zM0 9h1v1h-1zM18 9h1v1h-1zM0 11h1v1h-1zM6 11h1v1h-1zM12 11h1v1h-1zM18 11h1v1h-1zM6 18h1v1h-1zM12 18h1v1h-1zM1 20h1v1h-1zM3 20h1v1h-1zM15 20h1v1h-1zM17 20h1v1h-1zM9 22h1v1h-1zM9 25h1v1h-1zM3 27h1v1h-1zM15 27h1v1h-1zM0 31h1v1h-1zM18 31h1v1h-1zM9 34h1v1h-1zM0 36h1v1h-1zM18 36h1v1h-1z"/><path fill="#932667" d="M0 7h1v1h-1zM18 7h1v1h-1zM9 12h1v1h-1zM7 15h1v1h-1zM11 15h1v1h-1zM2 18h1v1h-1zM16 18h1v1h-1zM9 19h1v1h-1zM4 23h1v1h-1zM14 23h1v1h-1zM1 25h1v1h-1zM3 25h1v1h-1zM7 25h1v1h-1zM11 25h1v1h-1zM15 25h1v1h-1zM17 25h1v1h-1zM4 28h1v1h-1zM14 28h1v1h-1zM6 31h1v1h-1zM12 31h1v1h-1zM9 32h1v1h-1zM6 34h2v1h-2zM11 34h2v1h-2z"/><path fill="#a82e5f" d="M0 0h1v1h-1zM18 0h1v1h-1zM0 1h1v1h-1zM18 1h1v1h-1zM0 3h1v1h-1zM18 3h1v1h-1zM0 5h1v1h-1zM18 5h1v1h-1zM0 6h1v1h-1zM18 6h1v1h-1zM0 8h1v1h-1zM18 8h1v1h-1zM0 10h1v1h-1zM18 10h1v1h-1zM0 12h1v1h-1zM18 12h1v1h-1zM5 15h1v1h-1zM9 15h1v1h-1zM13 15h1v1h-1zM4 16h1v1h-1zM14 16h1v1h-1zM4 18h1v1h-1zM8 18h1v1h-1zM10 18h1v1h-1zM14 18h1v1h-1zM7 19h1v1h-1zM11 19h1v1h-1zM5 20h1v1h-1zM7 20h1v1h-1zM11 20h1v1h-1zM13 20h1v1h-1zM7 22h1v1h-1zM11 22h1v1h-1zM2 23h1v1h-1zM16 23h1v1h-1zM8 24h3v1h-3zM6 25h1v1h-1zM12 25h1v1h-1zM7 33h1v1h-1zM11 33h1v1h-1z"/><path fill="#bc3754" d="M3 4h1v1h-1zM15 4h1v1h-1zM8 10h3v1h-3zM3 11h1v1h-1zM15 11h1v1h-1zM3 13h1v1h-1zM7 13h5v1h-5zM15 13h1v1h-1zM2 14h1v1h-1zM16 14h1v1h-1zM8 15h1v1h-1zM10 15h1v1h-1zM1 18h1v1h-1zM9 18h1v1h-1zM17 18h1v1h-1zM8 20h1v1h-1zM10 20h1v1h-1zM5 22h1v1h-1zM13 22h1v1h-1zM6 23h1v1h-1zM12 23h1v1h-1zM0 24h1v1h-1zM7 24h1v1h-1zM11 24h1v1h-1zM18 24h1v1h-1zM8 25h1v1h-1zM10 25h1v1h-1zM1 26h1v1h-1zM7 26h1v1h-1zM9 26h1v1h-1zM11 26h1v1h-1zM17 26h1v1h-1zM8 27h1v1h-1zM10 27h1v1h-1zM9 33h1v1h-1z"/><path fill="#cc4248" d="M4 1h1v1h-1zM14 1h1v1h-1zM1 2h1v1h-1zM4 2h1v1h-1zM14 2h1v1h-1zM17 2h1v1h-1zM1 4h1v1h-1zM4 4h1v1h-1zM14 4h1v1h-1zM17 4h1v1h-1zM4 6h1v1h-1zM14 6h1v1h-1zM2 7h1v1h-1zM16 7h1v1h-1zM7 8h5v1h-5zM3 10h2v1h-2zM7 10h1v1h-1zM11 10h1v1h-1zM14 10h2v1h-2zM2 11h1v1h-1zM4 11h1v1h-1zM8 11h1v1h-1zM10 11h1v1h-1zM14 11h1v1h-1zM16 11h1v1h-1zM7 12h1v1h-1zM11 12h1v1h-1zM0 13h1v1h-1zM5 13h2v1h-2zM12 13h2v1h-2zM18 13h1v1h-1zM3 15h1v1h-1zM6 15h1v1h-1zM12 15h1v1h-1zM15 15h1v1h-1zM8 16h1v1h-1zM10 16h1v1h-1zM8 17h3v1h-3zM6 22h1v1h-1zM12 22h1v1h-1zM0 23h1v1h-1zM18 23h1v1h-1zM6 24h1v1h-1zM12 24h1v1h-1zM2 25h1v1h-1zM16 25h1v1h-1zM2 26h1v1h-1zM16 26h1v1h-1zM1 36h1v1h-1zM3 36h1v1h-1zM5 36h1v1h-1zM13 36h1v1h-1zM15 36h1v1h-1zM17 36h1v1h-1z"/><path fill="#dd513a" d="M1 0h2v1h-2zM4 0h1v1h-1zM14 0h1v1h-1zM16 0h2v1h-2zM1 1h1v1h-1zM3 1h1v1h-1zM15 1h1v1h-1zM17 1h1v1h-1zM2 2h2v1h-2zM15 2h2v1h-2zM3 3h1v1h-1zM5 3h1v1h-1zM13 3h1v1h-1zM15 3h1v1h-1zM2 4h1v1h-1zM16 4h1v1h-1zM5 5h1v1h-1zM13 5h1v1h-1zM1 6h1v1h-1zM3 6h1v1h-1zM8 6h1v1h-1zM10 6h1v1h-1zM15 6h1v1h-1zM17 6h1v1h-1zM9 7h1v1h-1zM1 8h1v1h-1zM3 8h3v1h-3zM13 8h3v1h-3zM17 8h1v1h-1zM1 9h1v1h-1zM3 9h2v1h-2zM6 9h1v1h-1zM12 9h1v1h-1zM14 9h2v1h-2zM17 9h1v1h-1zM5 10h2v1h-2zM12 10h2v1h-2zM1 11h1v1h-1zM9 11h1v1h-1zM17 11h1v1h-1zM3 12h1v1h-1zM8 12h1v1h-1zM10 12h1v1h-1zM15 12h1v1h-1zM2 13h1v1h-1zM16 13h1v1h-1zM0 14h1v1h-1zM3 14h1v1h-1zM5 14h1v1h-1zM7 14h1v1h-1zM9 14h1v1h-1zM11 14h1v1h-1zM13 14h1v1h-1zM15 14h1v1h-1zM18 14h1v1h-1zM2 15h1v1h-1zM16 15h1v1h-1zM6 16h1v1h-1zM12 16h1v1h-1zM2 17h1v1h-1zM6 17h1v1h-1zM12 17h1v1h-1zM16 17h1v1h-1zM7 18h1v1h-1zM11 18h1v1h-1zM8 19h1v1h-1zM10 19h1v1h-1zM6 20h1v1h-1zM12 20h1v1h-1zM7 21h1v1h-1zM11 21h1v1h-1zM1 22h1v1h-1zM3 22h1v1h-1zM15 22h1v1h-1zM17 22h1v1h-1zM1 23h1v1h-1zM9 23h1v1h-1zM17 23h1v1h-1zM5 27h2v1h-2zM12 27h2v1h-2zM3 28h1v1h-1zM5 28h1v1h-1zM8 28h1v1h-1zM10 28h1v1h-1zM13 28h1v1h-1zM15 28h1v1h-1zM6 29h2v1h-2zM11 29h2v1h-2zM6 30h1v1h-1zM12 30h1v1h-1zM8 31h1v1h-1zM10 31h1v1h-1zM6 32h1v1h-1zM12 32h1v1h-1zM8 34h1v1h-1zM10 34h1v1h-1zM2 36h1v1h-1zM4 36h1v1h-1zM14 36h1v1h-1zM16 36h1v1h-1z"/><path fill="#ea632a" d="M5 1h2v1h-2zM8 1h1v1h-1zM10 1h1v1h-1zM12 1h2v1h-2zM6 3h7v1h-7zM5 4h2v1h-2zM8 4h1v1h-1zM10 4h1v1h-1zM12 4h2v1h-2zM2 5h1v1h-1zM7 5h1v1h-1zM9 5h1v1h-1zM11 5h1v1h-1zM16 5h1v1h-1zM2 6h1v1h-1zM5 6h3v1h-3zM9 6h1v1h-1zM11 6h3v1h-3zM16 6h1v1h-1zM1 7h1v1h-1zM5 7h1v1h-1zM7 7h1v1h-1zM11 7h1v1h-1zM13 7h1v1h-1zM17 7h1v1h-1zM6 8h1v1h-1zM12 8h1v1h-1zM2 9h1v1h-1zM16 9h1v1h-1zM5 11h1v1h-1zM7 11h1v1h-1zM11 11h1v1h-1zM13 11h1v1h-1zM2 12h1v1h-1zM4 12h3v1h-3zM12 12h3v1h-3zM16 12h1v1h-1zM4 13h1v1h-1zM14 13h1v1h-1zM4 14h1v1h-1zM14 14h1v1h-1zM4 15h1v1h-1zM14 15h1v1h-1zM3 16h1v1h-1zM5 16h1v1h-1zM13 16h1v1h-1zM15 16h1v1h-1zM4 17h2v1h-2zM7 17h1v1h-1zM11 17h1v1h-1zM13 17h2v1h-2zM3 18h1v1h-1zM5 18h1v1h-1zM13 18h1v1h-1zM15 18h1v1h-1zM2 19h1v1h-1zM5 19h2v1h-2zM12 19h2v1h-2zM16 19h1v1h-1zM4 20h1v1h-1zM14 20h1v1h-1zM2 21h4v1h-4zM8 21h3v1h-3zM13 21h4v1h-4zM3 23h1v1h-1zM7 23h1v1h-1zM11 23h1v1h-1zM15 23h1v1h-1zM4 25h1v1h-1zM14 25h1v1h-1zM4 26h1v1h-1zM6 26h1v1h-1zM12 26h1v1h-1zM14 26h1v1h-1zM6 28h2v1h-2zM11 28h2v1h-2zM1 29h2v1h-2zM9 29h1v1h-1zM16 29h2v1h-2zM9 30h1v1h-1zM7 31h1v1h-1zM11 31h1v1h-1zM7 32h2v1h-2zM10 32h2v1h-2z"/><path fill="#f37819" d="M5 0h1v1h-1zM7 0h1v1h-1zM9 0h1v1h-1zM11 0h1v1h-1zM13 0h1v1h-1zM7 1h1v1h-1zM11 1h1v1h-1zM7 2h1v1h-1zM11 2h1v1h-1zM4 3h1v1h-1zM14 3h1v1h-1zM6 5h1v1h-1zM8 5h1v1h-1zM10 5h1v1h-1zM12 5h1v1h-1zM4 7h1v1h-1zM14 7h1v1h-1zM5 9h1v1h-1zM7 9h5v1h-5zM13 9h1v1h-1zM1 15h1v1h-1zM17 15h1v1h-1zM1 16h1v1h-1zM9 16h1v1h-1zM17 16h1v1h-1zM3 19h2v1h-2zM14 19h2v1h-2zM2 20h1v1h-1zM16 20h1v1h-1zM1 21h1v1h-1zM17 21h1v1h-1zM0 22h1v1h-1zM18 22h1v1h-1zM5 23h1v1h-1zM13 23h1v1h-1zM4 24h1v1h-1zM14 24h1v1h-1zM5 25h1v1h-1zM13 25h1v1h-1zM3 26h1v1h-1zM5 26h1v1h-1zM8 26h1v1h-1zM10 26h1v1h-1zM13 26h1v1h-1zM15 26h1v1h-1zM2 27h1v1h-1zM16 27h1v1h-1zM1 31h2v1h-2zM16 31h2v1h-2zM8 35h1v1h-1zM10 35h1v1h-1zM7 36h1v1h-1zM11 36h1v1h-1z"/><path fill="#f98e09" d="M3 0h1v1h-1zM15 0h1v1h-1zM2 1h1v1h-1zM9 1h1v1h-1zM16 1h1v1h-1zM1 3h2v1h-2zM16 3h2v1h-2zM1 5h1v1h-1zM3 5h2v1h-2zM14 5h2v1h-2zM17 5h1v1h-1zM3 7h1v1h-1zM6 7h1v1h-1zM12 7h1v1h-1zM15 7h1v1h-1zM2 8h1v1h-1zM16 8h1v1h-1zM1 13h1v1h-1zM17 13h1v1h-1zM6 14h1v1h-1zM8 14h1v1h-1zM10 14h1v1h-1zM12 14h1v1h-1zM0 15h1v1h-1zM18 15h1v1h-1zM7 16h1v1h-1zM11 16h1v1h-1zM1 17h1v1h-1zM17 17h1v1h-1zM4 22h1v1h-1zM14 22h1v1h-1zM5 24h1v1h-1zM13 24h1v1h-1zM9 28h1v1h-1zM3 31h3v1h-3zM13 31h3v1h-3zM6 36h1v1h-1zM12 36h1v1h-1z"/><path fill="#fca50a" d="M6 0h1v1h-1zM8 0h1v1h-1zM10 0h1v1h-1zM12 0h1v1h-1zM5 2h2v1h-2zM8 2h3v1h-3zM12 2h2v1h-2zM7 4h1v1h-1zM9 4h1v1h-1zM11 4h1v1h-1zM8 7h1v1h-1zM10 7h1v1h-1zM0 16h1v1h-1zM18 16h1v1h-1zM3 17h1v1h-1zM15 17h1v1h-1zM1 19h1v1h-1zM17 19h1v1h-1zM0 21h1v1h-1zM6 21h1v1h-1zM12 21h1v1h-1zM18 21h1v1h-1zM1 24h1v1h-1zM17 24h1v1h-1zM4 29h2v1h-2zM13 29h2v1h-2zM7 30h1v1h-1zM11 30h1v1h-1z"/><path fill="#fbbe23" d="M1 10h2v1h-2zM16 10h2v1h-2zM0 18h1v1h-1zM18 18h1v1h-1zM0 20h1v1h-1zM18 20h1v1h-1z"/><path fill="#f6d746" d="M1 14h1v1h-1zM17 14h1v1h-1zM0 17h1v1h-1zM18 17h1v1h-1zM2 22h1v1h-1zM16 22h1v1h-1zM4 27h1v1h-1zM14 27h1v1h-1zM8 33h1v1h-1zM10 33h1v1h-1zM9 35h1v1h-1z"/><path fill="#f1ef75" d="M1 12h1v1h-1zM17 12h1v1h-1zM0 19h1v1h-1zM18 19h1v1h-1zM2 24h1v1h-1zM16 24h1v1h-1z"/><path fill="#fcffa4" d="M3 24h1v1h-1zM15 24h1v1h-1z"/></g>
</g>
<rect class="ax" x="289.20" y="320.60" width="87.63" height="82.60"/>
<rect class="ax" x="289.20" y="407.95" width="87.63" height="174.20"/>
<path class="tk" d="M289.20 579.86h-5.6M289.20 497.34h-5.6M289.20 414.83h-5.6M289.20 359.61h-5.6M291.51 582.15v5.6M291.51 403.20v-5.2M333.01 582.15v5.6M333.01 403.20v-5.2M374.52 582.15v5.6M374.52 403.20v-5.2"/>
<text class="w" x="293.1" y="337.2" font-size="16">(<tspan class="b" dx="0.5" font-size="15.5">f</tspan><tspan dx="0.5">)</tspan></text>
<g shape-rendering="crispEdges" filter="url(#bl)">
<g transform="translate(405.60,320.60) scale(4.6120,4.5889)"><path fill="#fcffa4" d="M0 0h19v1h-19zM0 1h19v1h-19zM0 2h19v1h-19zM0 3h19v1h-19zM0 4h19v1h-19zM0 5h19v1h-19zM0 6h19v1h-19zM0 7h19v1h-19zM0 8h19v1h-19zM0 9h19v1h-19zM0 10h19v1h-19zM0 11h19v1h-19zM0 12h19v1h-19zM0 13h19v1h-19zM0 14h19v1h-19zM0 15h19v1h-19zM0 16h19v1h-19zM0 17h19v1h-19z"/></g>
<g transform="translate(405.60,407.95) scale(4.6120,4.5842)"><path fill="#000004" d="M0 32h1v1h-1zM18 32h1v1h-1zM0 33h2v1h-2zM17 33h2v1h-2zM0 34h3v1h-3zM16 34h3v1h-3zM0 35h5v1h-5zM14 35h5v1h-5zM0 36h7v1h-7zM12 36h7v1h-7zM0 37h19v1h-19z"/><path fill="#07051b" d="M0 31h1v1h-1zM18 31h1v1h-1z"/><path fill="#160b39" d="M1 32h1v1h-1zM17 32h1v1h-1zM2 33h1v1h-1zM16 33h1v1h-1z"/><path fill="#2b0b57" d="M0 30h1v1h-1zM18 30h1v1h-1zM3 34h1v1h-1zM15 34h1v1h-1z"/><path fill="#420a68" d="M1 31h1v1h-1zM17 31h1v1h-1zM2 32h1v1h-1zM16 32h1v1h-1z"/><path fill="#6a176e" d="M0 29h1v1h-1zM18 29h1v1h-1zM3 33h1v1h-1zM15 33h1v1h-1zM4 34h1v1h-1zM14 34h1v1h-1z"/><path fill="#7f1e6c" d="M5 35h1v1h-1zM13 35h1v1h-1z"/><path fill="#932667" d="M1 30h1v1h-1zM17 30h1v1h-1zM2 31h1v1h-1zM16 31h1v1h-1z"/><path fill="#a82e5f" d="M9 36h1v1h-1z"/><path fill="#bc3754" d="M0 28h1v1h-1zM18 28h1v1h-1zM3 32h1v1h-1zM15 32h1v1h-1z"/><path fill="#dd513a" d="M1 29h1v1h-1zM17 29h1v1h-1zM2 30h1v1h-1zM16 30h1v1h-1zM4 33h1v1h-1zM14 33h1v1h-1zM7 36h1v1h-1zM11 36h1v1h-1z"/><path fill="#ea632a" d="M3 31h1v1h-1zM15 31h1v1h-1zM6 35h1v1h-1zM12 35h1v1h-1z"/><path fill="#f37819" d="M0 7h1v1h-1zM18 7h1v1h-1zM0 8h1v1h-1zM18 8h1v1h-1zM9 16h1v1h-1zM9 17h1v1h-1zM9 18h1v1h-1zM0 27h1v1h-1zM18 27h1v1h-1zM1 28h1v1h-1zM17 28h1v1h-1zM4 32h1v1h-1zM14 32h1v1h-1zM5 34h1v1h-1zM13 34h1v1h-1z"/><path fill="#f57d15" d="M0 6h1v1h-1zM18 6h1v1h-1zM0 9h1v1h-1zM18 9h1v1h-1zM8 17h1v1h-1zM10 17h1v1h-1zM8 18h1v1h-1z"/><path fill="#f78212" d="M0 5h1v1h-1zM18 5h1v1h-1zM1 8h1v1h-1zM17 8h1v1h-1zM9 15h1v1h-1zM8 16h1v1h-1zM10 16h1v1h-1zM10 18h1v1h-1z"/><path fill="#f8870e" d="M1 6h1v1h-1zM17 6h1v1h-1zM1 7h1v1h-1zM17 7h1v1h-1zM1 9h1v1h-1zM17 9h1v1h-1zM0 10h1v1h-1zM18 10h1v1h-1zM8 15h1v1h-1zM10 15h1v1h-1zM8 19h3v1h-3z"/><path fill="#f98e09" d="M0 4h1v1h-1zM18 4h1v1h-1zM1 5h1v1h-1zM17 5h1v1h-1zM2 9h1v1h-1zM16 9h1v1h-1zM1 10h2v1h-2zM16 10h2v1h-2zM0 11h3v1h-3zM16 11h3v1h-3zM2 12h1v1h-1zM16 12h1v1h-1zM9 14h1v1h-1zM11 17h1v1h-1zM7 18h1v1h-1zM11 18h1v1h-1zM2 29h1v1h-1zM16 29h1v1h-1zM3 30h1v1h-1zM15 30h1v1h-1z"/><path fill="#fa9407" d="M1 4h1v1h-1zM17 4h1v1h-1zM2 7h1v1h-1zM16 7h1v1h-1zM2 8h1v1h-1zM16 8h1v1h-1zM3 10h1v1h-1zM15 10h1v1h-1zM3 11h1v1h-1zM15 11h1v1h-1zM0 12h2v1h-2zM3 12h1v1h-1zM15 12h1v1h-1zM17 12h2v1h-2zM2 13h2v1h-2zM15 13h2v1h-2zM2 14h1v1h-1zM8 14h1v1h-1zM10 14h1v1h-1zM16 14h1v1h-1zM7 16h1v1h-1zM11 16h1v1h-1zM7 17h1v1h-1zM7 19h1v1h-1zM11 19h1v1h-1zM4 23h1v1h-1zM14 23h1v1h-1zM1 27h1v1h-1zM17 27h1v1h-1z"/><path fill="#fb9906" d="M0 3h1v1h-1zM18 3h1v1h-1zM16 5h1v1h-1zM2 6h1v1h-1zM16 6h1v1h-1zM15 8h1v1h-1zM3 9h1v1h-1zM15 9h1v1h-1zM1 13h1v1h-1zM9 13h1v1h-1zM17 13h1v1h-1zM3 14h1v1h-1zM15 14h1v1h-1zM17 14h1v1h-1zM2 15h2v1h-2zM7 15h1v1h-1zM11 15h1v1h-1zM16 15h1v1h-1zM2 16h1v1h-1zM16 16h1v1h-1zM6 19h1v1h-1zM6 20h7v1h-7zM5 21h2v1h-2zM12 21h2v1h-2zM4 22h2v1h-2zM13 22h2v1h-2zM3 23h1v1h-1zM5 23h1v1h-1zM15 23h1v1h-1zM3 24h2v1h-2zM14 24h2v1h-2z"/><path fill="#fc9f07" d="M0 2h1v1h-1zM18 2h1v1h-1zM1 3h1v1h-1zM17 3h1v1h-1zM2 4h1v1h-1zM16 4h1v1h-1zM2 5h1v1h-1zM3 7h1v1h-1zM15 7h1v1h-1zM3 8h1v1h-1zM4 10h1v1h-1zM14 10h1v1h-1zM4 11h1v1h-1zM14 11h1v1h-1zM4 12h1v1h-1zM14 12h1v1h-1zM0 13h1v1h-1zM4 13h1v1h-1zM14 13h1v1h-1zM18 13h1v1h-1zM1 14h1v1h-1zM4 14h1v1h-1zM7 14h1v1h-1zM11 14h1v1h-1zM14 14h1v1h-1zM1 15h1v1h-1zM15 15h1v1h-1zM17 15h1v1h-1zM1 16h1v1h-1zM3 16h1v1h-1zM15 16h1v1h-1zM17 16h1v1h-1zM1 17h2v1h-2zM6 17h1v1h-1zM12 17h1v1h-1zM16 17h2v1h-2zM1 18h1v1h-1zM6 18h1v1h-1zM12 18h1v1h-1zM17 18h1v1h-1zM12 19h1v1h-1zM5 20h1v1h-1zM13 20h1v1h-1zM4 21h1v1h-1zM7 21h1v1h-1zM11 21h1v1h-1zM14 21h1v1h-1zM3 22h1v1h-1zM6 22h1v1h-1zM12 22h1v1h-1zM15 22h1v1h-1zM2 23h1v1h-1zM13 23h1v1h-1zM16 23h1v1h-1zM2 24h1v1h-1zM5 24h1v1h-1zM13 24h1v1h-1zM16 24h1v1h-1zM3 25h2v1h-2zM14 25h2v1h-2zM0 26h1v1h-1zM18 26h1v1h-1z"/><path fill="#fca50a" d="M0 0h6v1h-6zM13 0h6v1h-6zM0 1h5v1h-5zM14 1h5v1h-5zM1 2h3v1h-3zM15 2h3v1h-3zM2 3h2v1h-2zM15 3h2v1h-2zM3 6h1v1h-1zM15 6h1v1h-1zM4 8h1v1h-1zM14 8h1v1h-1zM4 9h1v1h-1zM14 9h1v1h-1zM5 12h1v1h-1zM13 12h1v1h-1zM5 13h4v1h-4zM10 13h4v1h-4zM0 14h1v1h-1zM5 14h2v1h-2zM12 14h2v1h-2zM18 14h1v1h-1zM0 15h1v1h-1zM4 15h3v1h-3zM12 15h3v1h-3zM18 15h1v1h-1zM0 16h1v1h-1zM4 16h3v1h-3zM12 16h3v1h-3zM18 16h1v1h-1zM0 17h1v1h-1zM3 17h3v1h-3zM13 17h3v1h-3zM18 17h1v1h-1zM0 18h1v1h-1zM2 18h4v1h-4zM13 18h4v1h-4zM18 18h1v1h-1zM0 19h6v1h-6zM13 19h6v1h-6zM0 20h5v1h-5zM14 20h5v1h-5zM1 21h3v1h-3zM8 21h3v1h-3zM15 21h3v1h-3zM2 22h1v1h-1zM7 22h5v1h-5zM16 22h1v1h-1zM6 23h2v1h-2zM11 23h2v1h-2zM6 24h1v1h-1zM12 24h1v1h-1zM2 25h1v1h-1zM5 25h1v1h-1zM13 25h1v1h-1zM16 25h1v1h-1zM1 26h5v1h-5zM13 26h5v1h-5zM2 27h5v1h-5zM12 27h5v1h-5zM2 28h2v1h-2zM5 28h4v1h-4zM10 28h4v1h-4zM15 28h2v1h-2zM3 29h1v1h-1zM6 29h2v1h-2zM9 29h1v1h-1zM11 29h2v1h-2zM15 29h1v1h-1zM7 30h1v1h-1zM11 30h1v1h-1zM4 31h1v1h-1zM14 31h1v1h-1zM5 33h1v1h-1zM13 33h1v1h-1z"/><path fill="#fcac11" d="M5 1h1v1h-1zM13 1h1v1h-1zM4 2h1v1h-1zM14 2h1v1h-1zM3 4h1v1h-1zM15 4h1v1h-1zM3 5h1v1h-1zM15 5h1v1h-1zM5 10h1v1h-1zM13 10h1v1h-1zM5 11h1v1h-1zM13 11h1v1h-1zM6 12h1v1h-1zM12 12h1v1h-1zM0 21h1v1h-1zM18 21h1v1h-1zM1 22h1v1h-1zM17 22h1v1h-1zM8 23h3v1h-3zM1 24h1v1h-1zM7 24h1v1h-1zM11 24h1v1h-1zM17 24h1v1h-1zM1 25h1v1h-1zM6 25h1v1h-1zM12 25h1v1h-1zM17 25h1v1h-1zM6 26h1v1h-1zM12 26h1v1h-1zM7 27h1v1h-1zM11 27h1v1h-1z"/><path fill="#fcb216" d="M6 0h1v1h-1zM12 0h1v1h-1zM5 2h1v1h-1zM13 2h1v1h-1zM4 3h1v1h-1zM14 3h1v1h-1zM4 4h1v1h-1zM14 4h1v1h-1zM4 6h1v1h-1zM14 6h1v1h-1zM4 7h1v1h-1zM14 7h1v1h-1zM5 8h1v1h-1zM13 8h1v1h-1zM5 9h1v1h-1zM13 9h1v1h-1zM6 11h1v1h-1zM12 11h1v1h-1zM7 12h5v1h-5zM1 23h1v1h-1zM17 23h1v1h-1zM0 25h1v1h-1zM7 25h1v1h-1zM11 25h1v1h-1zM18 25h1v1h-1zM7 26h1v1h-1zM11 26h1v1h-1z"/><path fill="#fbb81d" d="M7 0h1v1h-1zM11 0h1v1h-1zM6 1h1v1h-1zM12 1h1v1h-1zM5 3h1v1h-1zM13 3h1v1h-1zM4 5h1v1h-1zM14 5h1v1h-1zM5 7h1v1h-1zM13 7h1v1h-1zM6 10h1v1h-1zM12 10h1v1h-1zM0 22h1v1h-1zM18 22h1v1h-1zM8 24h1v1h-1zM10 24h1v1h-1zM8 27h1v1h-1zM10 27h1v1h-1z"/><path fill="#fbbe23" d="M8 0h3v1h-3zM7 1h5v1h-5zM6 2h2v1h-2zM11 2h2v1h-2zM6 3h1v1h-1zM12 3h1v1h-1zM5 4h1v1h-1zM13 4h1v1h-1zM5 5h1v1h-1zM13 5h1v1h-1zM5 6h1v1h-1zM13 6h1v1h-1zM6 7h1v1h-1zM12 7h1v1h-1zM6 8h1v1h-1zM12 8h1v1h-1zM6 9h1v1h-1zM12 9h1v1h-1zM7 11h5v1h-5zM0 23h1v1h-1zM18 23h1v1h-1zM0 24h1v1h-1zM9 24h1v1h-1zM18 24h1v1h-1zM8 25h1v1h-1zM10 25h1v1h-1zM8 26h3v1h-3zM9 27h1v1h-1zM4 28h1v1h-1zM9 28h1v1h-1zM14 28h1v1h-1zM4 29h2v1h-2zM8 29h1v1h-1zM10 29h1v1h-1zM13 29h2v1h-2zM4 30h3v1h-3zM8 30h3v1h-3zM12 30h3v1h-3zM5 31h9v1h-9zM5 32h1v1h-1zM7 32h1v1h-1zM9 32h1v1h-1zM11 32h1v1h-1zM13 32h1v1h-1zM6 34h1v1h-1zM12 34h1v1h-1z"/><path fill="#fac42a" d="M8 2h1v1h-1zM10 2h1v1h-1zM7 3h1v1h-1zM11 3h1v1h-1zM6 4h1v1h-1zM12 4h1v1h-1zM6 5h1v1h-1zM12 5h1v1h-1zM6 6h1v1h-1zM12 6h1v1h-1zM7 10h1v1h-1zM11 10h1v1h-1zM9 25h1v1h-1z"/><path fill="#f9cb35" d="M9 2h1v1h-1zM7 4h1v1h-1zM11 4h1v1h-1zM7 6h1v1h-1zM11 6h1v1h-1zM7 7h1v1h-1zM11 7h1v1h-1zM7 8h1v1h-1zM11 8h1v1h-1zM7 9h1v1h-1zM11 9h1v1h-1zM8 10h3v1h-3z"/><path fill="#f7d13d" d="M8 3h1v1h-1zM10 3h1v1h-1zM7 5h1v1h-1zM11 5h1v1h-1z"/><path fill="#f6d746" d="M9 3h1v1h-1zM8 4h3v1h-3zM8 5h3v1h-3zM8 6h3v1h-3zM8 7h3v1h-3zM8 8h3v1h-3zM8 9h3v1h-3zM6 32h1v1h-1zM8 32h1v1h-1zM10 32h1v1h-1zM12 32h1v1h-1zM6 33h7v1h-7zM7 35h1v1h-1zM11 35h1v1h-1z"/><path fill="#f1ef75" d="M7 34h5v1h-5zM8 35h3v1h-3z"/><path fill="#fcffa4" d="M8 36h1v1h-1zM10 36h1v1h-1z"/></g>
</g>
<rect class="ax" x="405.60" y="320.60" width="87.63" height="82.60"/>
<rect class="ax" x="405.60" y="407.95" width="87.63" height="174.20"/>
<path class="tk" d="M405.60 579.86h-5.6M405.60 497.34h-5.6M405.60 414.83h-5.6M405.60 359.61h-5.6M407.91 582.15v5.6M407.91 403.20v-5.2M449.41 582.15v5.6M449.41 403.20v-5.2M490.92 582.15v5.6M490.92 403.20v-5.2"/>
<text class="" x="409.5" y="337.2" font-size="16">(<tspan class="b" dx="0.5" font-size="15.5">h</tspan><tspan dx="0.5">)</tspan></text>
<g shape-rendering="crispEdges" filter="url(#bl)">
<g transform="translate(522.20,320.60) scale(4.6120,4.5889)"><path fill="#fcffa4" d="M0 0h19v1h-19zM0 1h19v1h-19zM0 2h19v1h-19zM0 3h19v1h-19zM0 4h19v1h-19zM0 5h19v1h-19zM0 6h19v1h-19zM0 7h19v1h-19zM0 8h19v1h-19zM0 9h19v1h-19zM0 10h19v1h-19zM0 11h19v1h-19zM0 12h19v1h-19zM0 13h19v1h-19zM0 14h19v1h-19zM0 15h19v1h-19zM0 16h19v1h-19zM0 17h19v1h-19z"/></g>
<g transform="translate(522.20,407.95) scale(4.6120,4.5842)"><path fill="#000004" d="M0 36h1v1h-1zM18 36h1v1h-1zM0 37h19v1h-19z"/><path fill="#07051b" d="M1 36h1v1h-1zM17 36h1v1h-1z"/><path fill="#160b39" d="M2 36h1v1h-1zM16 36h1v1h-1z"/><path fill="#420a68" d="M3 36h1v1h-1zM15 36h1v1h-1z"/><path fill="#7f1e6c" d="M0 35h1v1h-1zM18 35h1v1h-1z"/><path fill="#932667" d="M4 36h1v1h-1zM14 36h1v1h-1z"/><path fill="#cc4248" d="M1 35h1v1h-1zM17 35h1v1h-1zM5 36h1v1h-1zM13 36h1v1h-1z"/><path fill="#dd513a" d="M9 36h1v1h-1z"/><path fill="#ea632a" d="M2 35h1v1h-1zM16 35h1v1h-1z"/><path fill="#f98e09" d="M0 34h1v1h-1zM18 34h1v1h-1z"/><path fill="#fca50a" d="M3 35h1v1h-1zM15 35h1v1h-1z"/><path fill="#fbbe23" d="M1 34h1v1h-1zM17 34h1v1h-1zM4 35h1v1h-1zM14 35h1v1h-1z"/><path fill="#f6d746" d="M0 33h1v1h-1zM18 33h1v1h-1zM2 34h1v1h-1zM16 34h1v1h-1zM6 36h3v1h-3zM10 36h3v1h-3z"/><path fill="#f1ef75" d="M0 32h1v1h-1zM18 32h1v1h-1zM1 33h1v1h-1zM3 33h1v1h-1zM15 33h1v1h-1zM17 33h1v1h-1zM3 34h1v1h-1zM15 34h1v1h-1zM5 35h2v1h-2zM12 35h2v1h-2z"/><path fill="#fcffa4" d="M0 0h19v1h-19zM0 1h19v1h-19zM0 2h19v1h-19zM0 3h19v1h-19zM0 4h19v1h-19zM0 5h19v1h-19zM0 6h19v1h-19zM0 7h19v1h-19zM0 8h19v1h-19zM0 9h19v1h-19zM0 10h19v1h-19zM0 11h19v1h-19zM0 12h19v1h-19zM0 13h19v1h-19zM0 14h19v1h-19zM0 15h19v1h-19zM0 16h19v1h-19zM0 17h19v1h-19zM0 18h19v1h-19zM0 19h19v1h-19zM0 20h19v1h-19zM0 21h19v1h-19zM0 22h19v1h-19zM0 23h19v1h-19zM0 24h19v1h-19zM0 25h19v1h-19zM0 26h19v1h-19zM0 27h19v1h-19zM0 28h19v1h-19zM0 29h19v1h-19zM0 30h19v1h-19zM0 31h19v1h-19zM1 32h17v1h-17zM2 33h1v1h-1zM4 33h11v1h-11zM16 33h1v1h-1zM4 34h11v1h-11zM7 35h5v1h-5z"/></g>
</g>
<rect class="ax" x="522.20" y="320.60" width="87.63" height="82.60"/>
<rect class="ax" x="522.20" y="407.95" width="87.63" height="174.20"/>
<path class="tk" d="M522.20 579.86h-5.6M522.20 497.34h-5.6M522.20 414.83h-5.6M522.20 359.61h-5.6M524.51 582.15v5.6M524.51 403.20v-5.2M566.01 582.15v5.6M566.01 403.20v-5.2M607.52 582.15v5.6M607.52 403.20v-5.2"/>
<text class="" x="526.1" y="337.2" font-size="16">(<tspan class="b" dx="0.5" font-size="15.5">j</tspan><tspan dx="0.5">)</tspan></text>
<text x="100.2" y="9.9" font-size="15.2" text-anchor="middle"><tspan class="it">T</tspan><tspan font-size="10.5" dy="2">6</tspan></text>
<text x="216.5" y="9.9" font-size="15.2" text-anchor="middle"><tspan class="it">F</tspan><tspan font-size="10.5" dy="2">4</tspan></text>
<text x="333.0" y="9.9" font-size="15.2" text-anchor="middle"><tspan class="it">T</tspan><tspan font-size="10.5" dy="2">1</tspan></text>
<text x="449.4" y="9.9" font-size="15.2" text-anchor="middle"><tspan class="it">T</tspan><tspan font-size="10.5" dy="2">14</tspan></text>
<text x="566.0" y="9.9" font-size="15.2" text-anchor="middle"><tspan class="it">F</tspan><tspan font-size="10.5" dy="2">26</tspan></text>
<defs>
<linearGradient id="inf" x1="0" y1="1" x2="0" y2="0">
<stop offset="0" stop-color="#000004"/>
<stop offset="0.05" stop-color="#07051b"/>
<stop offset="0.1" stop-color="#160b39"/>
<stop offset="0.15" stop-color="#2b0b57"/>
<stop offset="0.2" stop-color="#420a68"/>
<stop offset="0.25" stop-color="#57106e"/>
<stop offset="0.3" stop-color="#6a176e"/>
<stop offset="0.35" stop-color="#7f1e6c"/>
<stop offset="0.4" stop-color="#932667"/>
<stop offset="0.45" stop-color="#a82e5f"/>
<stop offset="0.5" stop-color="#bc3754"/>
<stop offset="0.55" stop-color="#cc4248"/>
<stop offset="0.6" stop-color="#dd513a"/>
<stop offset="0.65" stop-color="#ea632a"/>
<stop offset="0.7" stop-color="#f37819"/>
<stop offset="0.75" stop-color="#f98e09"/>
<stop offset="0.8" stop-color="#fca50a"/>
<stop offset="0.85" stop-color="#fbbe23"/>
<stop offset="0.9" stop-color="#f6d746"/>
<stop offset="0.95" stop-color="#f1ef75"/>
<stop offset="1" stop-color="#fcffa4"/>
</linearGradient></defs>
<rect x="632.8" y="19.4" width="18.1" height="261.8" fill="url(#inf)"/>
<rect class="ax" x="632.8" y="19.4" width="18.1" height="261.8"/>
<path class="tk" d="M650.9 19.4h5.2M650.9 281.1h5.2"/>
<rect x="632.8" y="320.6" width="18.1" height="261.5" fill="url(#inf)"/>
<rect class="ax" x="632.8" y="320.6" width="18.1" height="261.5"/>
<path class="tk" d="M650.9 320.6h5.2M650.9 582.1h5.2"/>

<g font-size="14.6">
<text x="44.6" y="365.3" text-anchor="end">9991</text>
<text x="44.8" y="420.2" text-anchor="end">36</text>
<text x="44.8" y="502.6" text-anchor="end">18</text>
<text x="44.8" y="585.2" text-anchor="end">0</text>
<text x="58.5" y="603.9" text-anchor="middle">0</text>
<text x="100.2" y="603.9" text-anchor="middle">9</text>
<text x="141.9" y="603.9" text-anchor="middle">18</text>
<text x="100.2" y="623.8" text-anchor="middle" textLength="35.5" lengthAdjust="spacing">Site <tspan class="it">j</tspan></text>
<text transform="translate(10.3,442.3) rotate(-90)" text-anchor="middle" textLength="43.5" lengthAdjust="spacing">Time <tspan class="it">t</tspan></text>
<text x="662.3" y="325.8">1</text>
<text x="661.8" y="587.5">0</text>
<text x="662" y="449.6"><tspan class="it">s</tspan><tspan class="it" font-size="10" dy="2.6">j</tspan></text>
<text transform="translate(662.4,150.6) scale(0.9,1.28)" font-family="'DejaVu Serif',serif" font-size="12.5">⟨</text>
<text transform="translate(683.6,150.6) scale(0.9,1.28)" font-family="'DejaVu Serif',serif" font-size="12.5">⟩</text>
<text x="668.2" y="148.8" class="it" font-size="13.5">σ</text>
<text x="669.3" y="145.6" font-size="10.5">^</text>
<text x="677.6" y="151.2" class="it" font-size="10">j</text>
<text x="678.0" y="141.8" class="it" font-size="9">z</text>
</g>
<path d="M665.6 14.3V26.6M662.2 22.6Q665 24 665.6 26.8Q666.2 24 669 22.6" fill="none" stroke="#111" stroke-width="0.95"/>
<path d="M665.6 289.2V276.9M662.2 280.9Q665 279.5 665.6 276.7Q666.2 279.5 669 280.9" fill="none" stroke="#111" stroke-width="0.95"/>

</svg></body></html>
